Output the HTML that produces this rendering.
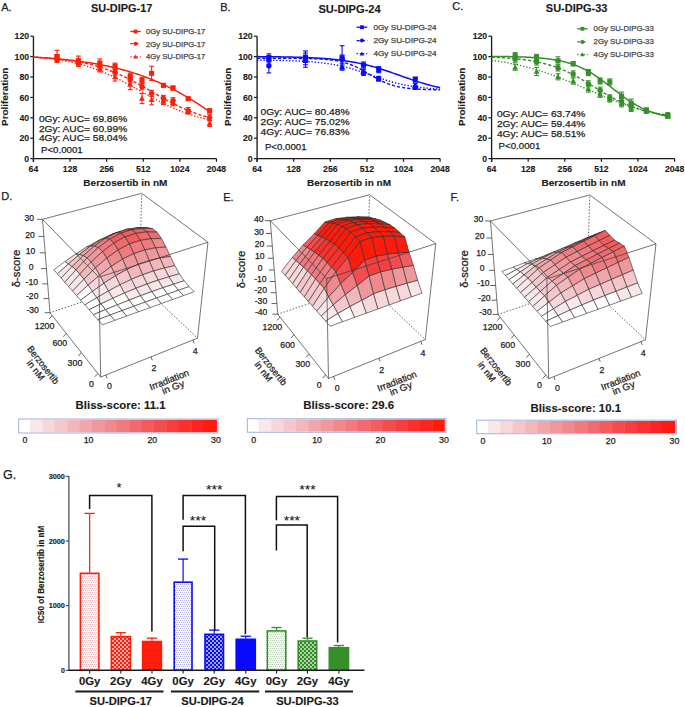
<!DOCTYPE html>
<html><head><meta charset="utf-8"><style>
html,body{margin:0;padding:0;background:#fff;}
body{width:685px;height:707px;overflow:hidden;}
svg{display:block;font-family:"Liberation Sans", sans-serif;}
</style></head><body>
<svg width="685" height="707" viewBox="0 0 685 707">
<rect width="685" height="707" fill="#fff"/>
<text x="1.2" y="10.8" font-size="11" fill="#1a1a1a" stroke="#1a1a1a" stroke-width="0.25">A.</text>
<text x="220.2" y="10.9" font-size="11" fill="#1a1a1a" stroke="#1a1a1a" stroke-width="0.25">B.</text>
<text x="452.2" y="9.5" font-size="11" fill="#1a1a1a" stroke="#1a1a1a" stroke-width="0.25">C.</text>
<text x="1.2" y="199.6" font-size="11" fill="#1a1a1a" stroke="#1a1a1a" stroke-width="0.25">D.</text>
<text x="223.2" y="201" font-size="11" fill="#1a1a1a" stroke="#1a1a1a" stroke-width="0.25">E.</text>
<text x="450.4" y="201" font-size="11" fill="#1a1a1a" stroke="#1a1a1a" stroke-width="0.25">F.</text>
<text x="3" y="478.7" font-size="12.5" fill="#1a1a1a" stroke="#1a1a1a" stroke-width="0.25">G.</text>
<text x="91" y="11.5" font-size="10.8" fill="#1a1a1a" font-weight="bold" textLength="61.3" lengthAdjust="spacingAndGlyphs" stroke="#1a1a1a" stroke-width="0.12">SU-DIPG-17</text>
<line x1="33.45" y1="36.2" x2="33.45" y2="161.8" stroke="#1a1a1a" stroke-width="1.35"/>
<line x1="32.85" y1="158.6" x2="216.45" y2="158.6" stroke="#1a1a1a" stroke-width="1.35"/>
<line x1="30.25" y1="158.6" x2="33.45" y2="158.6" stroke="#1a1a1a" stroke-width="1.2"/>
<text x="29.05" y="161.7" font-size="8.7" fill="#1a1a1a" text-anchor="end" font-weight="bold" stroke="#1a1a1a" stroke-width="0.12">0</text>
<line x1="30.25" y1="138.2" x2="33.45" y2="138.2" stroke="#1a1a1a" stroke-width="1.2"/>
<text x="29.05" y="141.3" font-size="8.7" fill="#1a1a1a" text-anchor="end" font-weight="bold" stroke="#1a1a1a" stroke-width="0.12">20</text>
<line x1="30.25" y1="117.8" x2="33.45" y2="117.8" stroke="#1a1a1a" stroke-width="1.2"/>
<text x="29.05" y="120.9" font-size="8.7" fill="#1a1a1a" text-anchor="end" font-weight="bold" stroke="#1a1a1a" stroke-width="0.12">40</text>
<line x1="30.25" y1="97.4" x2="33.45" y2="97.4" stroke="#1a1a1a" stroke-width="1.2"/>
<text x="29.05" y="100.5" font-size="8.7" fill="#1a1a1a" text-anchor="end" font-weight="bold" stroke="#1a1a1a" stroke-width="0.12">60</text>
<line x1="30.25" y1="77" x2="33.45" y2="77" stroke="#1a1a1a" stroke-width="1.2"/>
<text x="29.05" y="80.1" font-size="8.7" fill="#1a1a1a" text-anchor="end" font-weight="bold" stroke="#1a1a1a" stroke-width="0.12">80</text>
<line x1="30.25" y1="56.6" x2="33.45" y2="56.6" stroke="#1a1a1a" stroke-width="1.2"/>
<text x="29.05" y="59.7" font-size="8.7" fill="#1a1a1a" text-anchor="end" font-weight="bold" stroke="#1a1a1a" stroke-width="0.12">100</text>
<line x1="30.25" y1="36.2" x2="33.45" y2="36.2" stroke="#1a1a1a" stroke-width="1.2"/>
<text x="29.05" y="39.3" font-size="8.7" fill="#1a1a1a" text-anchor="end" font-weight="bold" stroke="#1a1a1a" stroke-width="0.12">120</text>
<line x1="33.45" y1="158.6" x2="33.45" y2="161.8" stroke="#1a1a1a" stroke-width="1.2"/>
<text x="33.45" y="172" font-size="8.7" fill="#1a1a1a" text-anchor="middle" font-weight="bold" stroke="#1a1a1a" stroke-width="0.12">64</text>
<line x1="70.05" y1="158.6" x2="70.05" y2="161.8" stroke="#1a1a1a" stroke-width="1.2"/>
<text x="70.05" y="172" font-size="8.7" fill="#1a1a1a" text-anchor="middle" font-weight="bold" stroke="#1a1a1a" stroke-width="0.12">128</text>
<line x1="106.65" y1="158.6" x2="106.65" y2="161.8" stroke="#1a1a1a" stroke-width="1.2"/>
<text x="106.65" y="172" font-size="8.7" fill="#1a1a1a" text-anchor="middle" font-weight="bold" stroke="#1a1a1a" stroke-width="0.12">256</text>
<line x1="143.25" y1="158.6" x2="143.25" y2="161.8" stroke="#1a1a1a" stroke-width="1.2"/>
<text x="143.25" y="172" font-size="8.7" fill="#1a1a1a" text-anchor="middle" font-weight="bold" stroke="#1a1a1a" stroke-width="0.12">512</text>
<line x1="179.85" y1="158.6" x2="179.85" y2="161.8" stroke="#1a1a1a" stroke-width="1.2"/>
<text x="179.85" y="172" font-size="8.7" fill="#1a1a1a" text-anchor="middle" font-weight="bold" stroke="#1a1a1a" stroke-width="0.12">1024</text>
<line x1="216.45" y1="158.6" x2="216.45" y2="161.8" stroke="#1a1a1a" stroke-width="1.2"/>
<text x="216.45" y="172" font-size="8.7" fill="#1a1a1a" text-anchor="middle" font-weight="bold" stroke="#1a1a1a" stroke-width="0.12">2048</text>
<text x="7.9" y="96.8" font-size="9.8" fill="#1a1a1a" text-anchor="middle" font-weight="bold" textLength="58.3" lengthAdjust="spacingAndGlyphs" transform="rotate(-90 7.9 96.8)" stroke="#1a1a1a" stroke-width="0.12">Proliferation</text>
<text x="125.35" y="186.2" font-size="9.4" fill="#1a1a1a" text-anchor="middle" font-weight="bold" textLength="84" lengthAdjust="spacingAndGlyphs" stroke="#1a1a1a" stroke-width="0.12">Berzosertib in nM</text>
<polyline points="33.45,57.07 34.93,57.16 36.41,57.25 37.89,57.34 39.37,57.44 40.85,57.54 42.33,57.64 43.81,57.75 45.29,57.85 46.77,57.96 48.26,58.08 49.74,58.19 51.22,58.31 52.7,58.44 54.18,58.56 55.66,58.69 57.14,58.82 58.62,58.96 60.1,59.1 61.58,59.24 63.06,59.39 64.54,59.54 66.02,59.7 67.5,59.86 68.98,60.02 70.46,60.19 71.94,60.36 73.42,60.54 74.91,60.72 76.39,60.9 77.87,61.1 79.35,61.29 80.83,61.49 82.31,61.7 83.79,61.91 85.27,62.12 86.75,62.35 88.23,62.57 89.71,62.81 91.19,63.05 92.67,63.29 94.15,63.54 95.63,63.8 97.11,64.06 98.59,64.33 100.07,64.61 101.55,64.89 103.04,65.18 104.52,65.48 106,65.78 107.48,66.1 108.96,66.42 110.44,66.74 111.92,67.08 113.4,67.42 114.88,67.77 116.36,68.13 117.84,68.5 119.32,68.87 120.8,69.26 122.28,69.65 123.76,70.05 125.24,70.46 126.72,70.88 128.2,71.31 129.69,71.75 131.17,72.19 132.65,72.65 134.13,73.12 135.61,73.6 137.09,74.08 138.57,74.58 140.05,75.09 141.53,75.61 143.01,76.14 144.49,76.68 145.97,77.23 147.45,77.79 148.93,78.36 150.41,78.94 151.89,79.54 153.37,80.14 154.85,80.76 156.33,81.39 157.82,82.03 159.3,82.68 160.78,83.34 162.26,84.02 163.74,84.71 165.22,85.4 166.7,86.11 168.18,86.83 169.66,87.57 171.14,88.31 172.62,89.07 174.1,89.84 175.58,90.62 177.06,91.41 178.54,92.21 180.02,93.03 181.5,93.85 182.98,94.69 184.47,95.54 185.95,96.4 187.43,97.27 188.91,98.15 190.39,99.04 191.87,99.95 193.35,100.86 194.83,101.78 196.31,102.72 197.79,103.66 199.27,104.61 200.75,105.57 202.23,106.54 203.71,107.52 205.19,108.51 206.67,109.51 208.15,110.51 209.63,111.53" fill="none" stroke="#ff1e0a" stroke-width="1.5"/>
<polyline points="33.45,57.3 34.93,57.38 36.41,57.45 37.89,57.54 39.37,57.62 40.85,57.71 42.33,57.8 43.81,57.9 45.29,58 46.77,58.11 48.26,58.22 49.74,58.33 51.22,58.45 52.7,58.58 54.18,58.71 55.66,58.85 57.14,59 58.62,59.15 60.1,59.3 61.58,59.47 63.06,59.64 64.54,59.82 66.02,60.01 67.5,60.2 68.98,60.41 70.46,60.62 71.94,60.84 73.42,61.07 74.91,61.31 76.39,61.56 77.87,61.82 79.35,62.09 80.83,62.37 82.31,62.66 83.79,62.97 85.27,63.28 86.75,63.61 88.23,63.95 89.71,64.31 91.19,64.67 92.67,65.05 94.15,65.45 95.63,65.86 97.11,66.28 98.59,66.71 100.07,67.17 101.55,67.63 103.04,68.11 104.52,68.61 106,69.12 107.48,69.65 108.96,70.19 110.44,70.75 111.92,71.33 113.4,71.92 114.88,72.52 116.36,73.14 117.84,73.78 119.32,74.43 120.8,75.1 122.28,75.78 123.76,76.48 125.24,77.19 126.72,77.91 128.2,78.65 129.69,79.4 131.17,80.17 132.65,80.94 134.13,81.73 135.61,82.52 137.09,83.33 138.57,84.14 140.05,84.96 141.53,85.79 143.01,86.63 144.49,87.47 145.97,88.31 147.45,89.16 148.93,90.01 150.41,90.87 151.89,91.72 153.37,92.57 154.85,93.43 156.33,94.28 157.82,95.12 159.3,95.96 160.78,96.8 162.26,97.63 163.74,98.46 165.22,99.27 166.7,100.08 168.18,100.88 169.66,101.67 171.14,102.45 172.62,103.21 174.1,103.97 175.58,104.71 177.06,105.44 178.54,106.15 180.02,106.85 181.5,107.54 182.98,108.21 184.47,108.87 185.95,109.51 187.43,110.14 188.91,110.75 190.39,111.34 191.87,111.92 193.35,112.49 194.83,113.03 196.31,113.57 197.79,114.08 199.27,114.58 200.75,115.07 202.23,115.54 203.71,116 205.19,116.44 206.67,116.86 208.15,117.28 209.63,117.67" fill="none" stroke="#ff1e0a" stroke-width="1.4" stroke-dasharray="3.2,2"/>
<polyline points="33.45,56.93 34.93,57.05 36.41,57.17 37.89,57.3 39.37,57.44 40.85,57.58 42.33,57.72 43.81,57.88 45.29,58.03 46.77,58.2 48.26,58.37 49.74,58.55 51.22,58.74 52.7,58.93 54.18,59.14 55.66,59.35 57.14,59.57 58.62,59.79 60.1,60.03 61.58,60.28 63.06,60.53 64.54,60.8 66.02,61.07 67.5,61.36 68.98,61.66 70.46,61.96 71.94,62.28 73.42,62.61 74.91,62.95 76.39,63.31 77.87,63.67 79.35,64.05 80.83,64.45 82.31,64.85 83.79,65.27 85.27,65.7 86.75,66.15 88.23,66.61 89.71,67.08 91.19,67.57 92.67,68.07 94.15,68.59 95.63,69.12 97.11,69.66 98.59,70.22 100.07,70.8 101.55,71.39 103.04,71.99 104.52,72.61 106,73.24 107.48,73.89 108.96,74.54 110.44,75.22 111.92,75.91 113.4,76.6 114.88,77.32 116.36,78.04 117.84,78.78 119.32,79.52 120.8,80.28 122.28,81.05 123.76,81.83 125.24,82.61 126.72,83.41 128.2,84.21 129.69,85.02 131.17,85.83 132.65,86.65 134.13,87.48 135.61,88.31 137.09,89.14 138.57,89.97 140.05,90.8 141.53,91.64 143.01,92.47 144.49,93.3 145.97,94.13 147.45,94.95 148.93,95.77 150.41,96.59 151.89,97.4 153.37,98.21 154.85,99 156.33,99.79 157.82,100.57 159.3,101.35 160.78,102.11 162.26,102.86 163.74,103.6 165.22,104.33 166.7,105.04 168.18,105.75 169.66,106.44 171.14,107.12 172.62,107.78 174.1,108.43 175.58,109.07 177.06,109.7 178.54,110.3 180.02,110.9 181.5,111.48 182.98,112.04 184.47,112.59 185.95,113.13 187.43,113.65 188.91,114.16 190.39,114.65 191.87,115.13 193.35,115.6 194.83,116.05 196.31,116.48 197.79,116.91 199.27,117.32 200.75,117.71 202.23,118.1 203.71,118.47 205.19,118.83 206.67,119.17 208.15,119.51 209.63,119.83" fill="none" stroke="#ff1e0a" stroke-width="1.4" stroke-dasharray="1.3,1.9"/>
<line x1="57.02" y1="50.28" x2="57.02" y2="62.52" stroke="#ff1e0a" stroke-width="1.1"/>
<line x1="54.62" y1="50.28" x2="59.42" y2="50.28" stroke="#ff1e0a" stroke-width="1.1"/>
<line x1="54.62" y1="62.52" x2="59.42" y2="62.52" stroke="#ff1e0a" stroke-width="1.1"/>
<rect x="54.47" y="53.85" width="5.1" height="5.1" fill="#ff1e0a"/>
<line x1="78.42" y1="56.09" x2="78.42" y2="66.29" stroke="#ff1e0a" stroke-width="1.1"/>
<line x1="76.02" y1="56.09" x2="80.82" y2="56.09" stroke="#ff1e0a" stroke-width="1.1"/>
<line x1="76.02" y1="66.29" x2="80.82" y2="66.29" stroke="#ff1e0a" stroke-width="1.1"/>
<rect x="75.87" y="58.64" width="5.1" height="5.1" fill="#ff1e0a"/>
<line x1="99.83" y1="58.95" x2="99.83" y2="67.11" stroke="#ff1e0a" stroke-width="1.1"/>
<line x1="97.43" y1="58.95" x2="102.23" y2="58.95" stroke="#ff1e0a" stroke-width="1.1"/>
<line x1="97.43" y1="67.11" x2="102.23" y2="67.11" stroke="#ff1e0a" stroke-width="1.1"/>
<rect x="97.28" y="60.48" width="5.1" height="5.1" fill="#ff1e0a"/>
<line x1="115.02" y1="63.13" x2="115.02" y2="69.25" stroke="#ff1e0a" stroke-width="1.1"/>
<line x1="112.62" y1="63.13" x2="117.42" y2="63.13" stroke="#ff1e0a" stroke-width="1.1"/>
<line x1="112.62" y1="69.25" x2="117.42" y2="69.25" stroke="#ff1e0a" stroke-width="1.1"/>
<rect x="112.47" y="63.64" width="5.1" height="5.1" fill="#ff1e0a"/>
<line x1="130.22" y1="73.23" x2="130.22" y2="79.35" stroke="#ff1e0a" stroke-width="1.1"/>
<line x1="127.82" y1="73.23" x2="132.62" y2="73.23" stroke="#ff1e0a" stroke-width="1.1"/>
<line x1="127.82" y1="79.35" x2="132.62" y2="79.35" stroke="#ff1e0a" stroke-width="1.1"/>
<rect x="127.67" y="73.74" width="5.1" height="5.1" fill="#ff1e0a"/>
<line x1="142" y1="77.31" x2="142" y2="83.43" stroke="#ff1e0a" stroke-width="1.1"/>
<line x1="139.6" y1="77.31" x2="144.4" y2="77.31" stroke="#ff1e0a" stroke-width="1.1"/>
<line x1="139.6" y1="83.43" x2="144.4" y2="83.43" stroke="#ff1e0a" stroke-width="1.1"/>
<rect x="139.45" y="77.82" width="5.1" height="5.1" fill="#ff1e0a"/>
<line x1="151.62" y1="66.19" x2="151.62" y2="80.47" stroke="#ff1e0a" stroke-width="1.1"/>
<line x1="149.22" y1="66.19" x2="154.02" y2="66.19" stroke="#ff1e0a" stroke-width="1.1"/>
<line x1="149.22" y1="80.47" x2="154.02" y2="80.47" stroke="#ff1e0a" stroke-width="1.1"/>
<rect x="149.07" y="70.78" width="5.1" height="5.1" fill="#ff1e0a"/>
<line x1="163.41" y1="83.83" x2="163.41" y2="86.89" stroke="#ff1e0a" stroke-width="1.1"/>
<line x1="161.01" y1="83.83" x2="165.81" y2="83.83" stroke="#ff1e0a" stroke-width="1.1"/>
<line x1="161.01" y1="86.89" x2="165.81" y2="86.89" stroke="#ff1e0a" stroke-width="1.1"/>
<rect x="160.86" y="82.81" width="5.1" height="5.1" fill="#ff1e0a"/>
<line x1="173.03" y1="85.98" x2="173.03" y2="90.06" stroke="#ff1e0a" stroke-width="1.1"/>
<line x1="170.63" y1="85.98" x2="175.43" y2="85.98" stroke="#ff1e0a" stroke-width="1.1"/>
<line x1="170.63" y1="90.06" x2="175.43" y2="90.06" stroke="#ff1e0a" stroke-width="1.1"/>
<rect x="170.48" y="85.47" width="5.1" height="5.1" fill="#ff1e0a"/>
<line x1="188.22" y1="97.2" x2="188.22" y2="100.26" stroke="#ff1e0a" stroke-width="1.1"/>
<line x1="185.82" y1="97.2" x2="190.62" y2="97.2" stroke="#ff1e0a" stroke-width="1.1"/>
<line x1="185.82" y1="100.26" x2="190.62" y2="100.26" stroke="#ff1e0a" stroke-width="1.1"/>
<rect x="185.67" y="96.18" width="5.1" height="5.1" fill="#ff1e0a"/>
<line x1="209.63" y1="108.82" x2="209.63" y2="112.9" stroke="#ff1e0a" stroke-width="1.1"/>
<line x1="207.23" y1="108.82" x2="212.03" y2="108.82" stroke="#ff1e0a" stroke-width="1.1"/>
<line x1="207.23" y1="112.9" x2="212.03" y2="112.9" stroke="#ff1e0a" stroke-width="1.1"/>
<rect x="207.08" y="108.31" width="5.1" height="5.1" fill="#ff1e0a"/>
<line x1="57.02" y1="54.56" x2="57.02" y2="60.68" stroke="#ff1e0a" stroke-width="1.1"/>
<line x1="54.62" y1="54.56" x2="59.42" y2="54.56" stroke="#ff1e0a" stroke-width="1.1"/>
<line x1="54.62" y1="60.68" x2="59.42" y2="60.68" stroke="#ff1e0a" stroke-width="1.1"/>
<circle cx="57.02" cy="57.62" r="2.68" fill="#ff1e0a"/>
<line x1="78.42" y1="59.66" x2="78.42" y2="65.78" stroke="#ff1e0a" stroke-width="1.1"/>
<line x1="76.02" y1="59.66" x2="80.82" y2="59.66" stroke="#ff1e0a" stroke-width="1.1"/>
<line x1="76.02" y1="65.78" x2="80.82" y2="65.78" stroke="#ff1e0a" stroke-width="1.1"/>
<circle cx="78.42" cy="62.72" r="2.68" fill="#ff1e0a"/>
<line x1="99.83" y1="62.72" x2="99.83" y2="68.84" stroke="#ff1e0a" stroke-width="1.1"/>
<line x1="97.43" y1="62.72" x2="102.23" y2="62.72" stroke="#ff1e0a" stroke-width="1.1"/>
<line x1="97.43" y1="68.84" x2="102.23" y2="68.84" stroke="#ff1e0a" stroke-width="1.1"/>
<circle cx="99.83" cy="65.78" r="2.68" fill="#ff1e0a"/>
<line x1="115.02" y1="69.15" x2="115.02" y2="75.27" stroke="#ff1e0a" stroke-width="1.1"/>
<line x1="112.62" y1="69.15" x2="117.42" y2="69.15" stroke="#ff1e0a" stroke-width="1.1"/>
<line x1="112.62" y1="75.27" x2="117.42" y2="75.27" stroke="#ff1e0a" stroke-width="1.1"/>
<circle cx="115.02" cy="72.21" r="2.68" fill="#ff1e0a"/>
<line x1="130.22" y1="76.8" x2="130.22" y2="82.92" stroke="#ff1e0a" stroke-width="1.1"/>
<line x1="127.82" y1="76.8" x2="132.62" y2="76.8" stroke="#ff1e0a" stroke-width="1.1"/>
<line x1="127.82" y1="82.92" x2="132.62" y2="82.92" stroke="#ff1e0a" stroke-width="1.1"/>
<circle cx="130.22" cy="79.86" r="2.68" fill="#ff1e0a"/>
<line x1="142" y1="83.73" x2="142" y2="89.85" stroke="#ff1e0a" stroke-width="1.1"/>
<line x1="139.6" y1="83.73" x2="144.4" y2="83.73" stroke="#ff1e0a" stroke-width="1.1"/>
<line x1="139.6" y1="89.85" x2="144.4" y2="89.85" stroke="#ff1e0a" stroke-width="1.1"/>
<circle cx="142" cy="86.79" r="2.68" fill="#ff1e0a"/>
<line x1="151.62" y1="90.26" x2="151.62" y2="96.38" stroke="#ff1e0a" stroke-width="1.1"/>
<line x1="149.22" y1="90.26" x2="154.02" y2="90.26" stroke="#ff1e0a" stroke-width="1.1"/>
<line x1="149.22" y1="96.38" x2="154.02" y2="96.38" stroke="#ff1e0a" stroke-width="1.1"/>
<circle cx="151.62" cy="93.32" r="2.68" fill="#ff1e0a"/>
<line x1="163.41" y1="95.36" x2="163.41" y2="101.48" stroke="#ff1e0a" stroke-width="1.1"/>
<line x1="161.01" y1="95.36" x2="165.81" y2="95.36" stroke="#ff1e0a" stroke-width="1.1"/>
<line x1="161.01" y1="101.48" x2="165.81" y2="101.48" stroke="#ff1e0a" stroke-width="1.1"/>
<circle cx="163.41" cy="98.42" r="2.68" fill="#ff1e0a"/>
<line x1="173.03" y1="97.71" x2="173.03" y2="103.83" stroke="#ff1e0a" stroke-width="1.1"/>
<line x1="170.63" y1="97.71" x2="175.43" y2="97.71" stroke="#ff1e0a" stroke-width="1.1"/>
<line x1="170.63" y1="103.83" x2="175.43" y2="103.83" stroke="#ff1e0a" stroke-width="1.1"/>
<circle cx="173.03" cy="100.77" r="2.68" fill="#ff1e0a"/>
<line x1="188.22" y1="107.6" x2="188.22" y2="113.72" stroke="#ff1e0a" stroke-width="1.1"/>
<line x1="185.82" y1="107.6" x2="190.62" y2="107.6" stroke="#ff1e0a" stroke-width="1.1"/>
<line x1="185.82" y1="113.72" x2="190.62" y2="113.72" stroke="#ff1e0a" stroke-width="1.1"/>
<circle cx="188.22" cy="110.66" r="2.68" fill="#ff1e0a"/>
<line x1="209.63" y1="114.74" x2="209.63" y2="120.86" stroke="#ff1e0a" stroke-width="1.1"/>
<line x1="207.23" y1="114.74" x2="212.03" y2="114.74" stroke="#ff1e0a" stroke-width="1.1"/>
<line x1="207.23" y1="120.86" x2="212.03" y2="120.86" stroke="#ff1e0a" stroke-width="1.1"/>
<circle cx="209.63" cy="117.8" r="2.68" fill="#ff1e0a"/>
<line x1="57.02" y1="55.58" x2="57.02" y2="61.7" stroke="#ff1e0a" stroke-width="1.1"/>
<line x1="54.62" y1="55.58" x2="59.42" y2="55.58" stroke="#ff1e0a" stroke-width="1.1"/>
<line x1="54.62" y1="61.7" x2="59.42" y2="61.7" stroke="#ff1e0a" stroke-width="1.1"/>
<polygon points="57.02,55.58 59.95,60.93 54.08,60.93" fill="#ff1e0a"/>
<line x1="78.42" y1="58.64" x2="78.42" y2="64.76" stroke="#ff1e0a" stroke-width="1.1"/>
<line x1="76.02" y1="58.64" x2="80.82" y2="58.64" stroke="#ff1e0a" stroke-width="1.1"/>
<line x1="76.02" y1="64.76" x2="80.82" y2="64.76" stroke="#ff1e0a" stroke-width="1.1"/>
<polygon points="78.42,58.64 81.36,63.99 75.49,63.99" fill="#ff1e0a"/>
<line x1="99.83" y1="65.78" x2="99.83" y2="71.9" stroke="#ff1e0a" stroke-width="1.1"/>
<line x1="97.43" y1="65.78" x2="102.23" y2="65.78" stroke="#ff1e0a" stroke-width="1.1"/>
<line x1="97.43" y1="71.9" x2="102.23" y2="71.9" stroke="#ff1e0a" stroke-width="1.1"/>
<polygon points="99.83,65.78 102.77,71.13 96.9,71.13" fill="#ff1e0a"/>
<line x1="115.02" y1="72.92" x2="115.02" y2="81.08" stroke="#ff1e0a" stroke-width="1.1"/>
<line x1="112.62" y1="72.92" x2="117.42" y2="72.92" stroke="#ff1e0a" stroke-width="1.1"/>
<line x1="112.62" y1="81.08" x2="117.42" y2="81.08" stroke="#ff1e0a" stroke-width="1.1"/>
<polygon points="115.02,73.94 117.96,79.3 112.09,79.3" fill="#ff1e0a"/>
<line x1="130.22" y1="79.45" x2="130.22" y2="89.65" stroke="#ff1e0a" stroke-width="1.1"/>
<line x1="127.82" y1="79.45" x2="132.62" y2="79.45" stroke="#ff1e0a" stroke-width="1.1"/>
<line x1="127.82" y1="89.65" x2="132.62" y2="89.65" stroke="#ff1e0a" stroke-width="1.1"/>
<polygon points="130.22,81.49 133.15,86.84 127.28,86.84" fill="#ff1e0a"/>
<line x1="142" y1="93.42" x2="142" y2="103.62" stroke="#ff1e0a" stroke-width="1.1"/>
<line x1="139.6" y1="93.42" x2="144.4" y2="93.42" stroke="#ff1e0a" stroke-width="1.1"/>
<line x1="139.6" y1="103.62" x2="144.4" y2="103.62" stroke="#ff1e0a" stroke-width="1.1"/>
<polygon points="142,95.46 144.93,100.82 139.07,100.82" fill="#ff1e0a"/>
<line x1="151.62" y1="94.65" x2="151.62" y2="104.85" stroke="#ff1e0a" stroke-width="1.1"/>
<line x1="149.22" y1="94.65" x2="154.02" y2="94.65" stroke="#ff1e0a" stroke-width="1.1"/>
<line x1="149.22" y1="104.85" x2="154.02" y2="104.85" stroke="#ff1e0a" stroke-width="1.1"/>
<polygon points="151.62,96.69 154.56,102.04 148.69,102.04" fill="#ff1e0a"/>
<line x1="163.41" y1="98.42" x2="163.41" y2="104.54" stroke="#ff1e0a" stroke-width="1.1"/>
<line x1="161.01" y1="98.42" x2="165.81" y2="98.42" stroke="#ff1e0a" stroke-width="1.1"/>
<line x1="161.01" y1="104.54" x2="165.81" y2="104.54" stroke="#ff1e0a" stroke-width="1.1"/>
<polygon points="163.41,98.42 166.34,103.77 160.47,103.77" fill="#ff1e0a"/>
<line x1="173.03" y1="99.64" x2="173.03" y2="105.76" stroke="#ff1e0a" stroke-width="1.1"/>
<line x1="170.63" y1="99.64" x2="175.43" y2="99.64" stroke="#ff1e0a" stroke-width="1.1"/>
<line x1="170.63" y1="105.76" x2="175.43" y2="105.76" stroke="#ff1e0a" stroke-width="1.1"/>
<polygon points="173.03,99.64 175.97,105 170.1,105" fill="#ff1e0a"/>
<line x1="188.22" y1="109.64" x2="188.22" y2="113.72" stroke="#ff1e0a" stroke-width="1.1"/>
<line x1="185.82" y1="109.64" x2="190.62" y2="109.64" stroke="#ff1e0a" stroke-width="1.1"/>
<line x1="185.82" y1="113.72" x2="190.62" y2="113.72" stroke="#ff1e0a" stroke-width="1.1"/>
<polygon points="188.22,108.62 191.16,113.97 185.29,113.97" fill="#ff1e0a"/>
<line x1="209.63" y1="120.35" x2="209.63" y2="126.47" stroke="#ff1e0a" stroke-width="1.1"/>
<line x1="207.23" y1="120.35" x2="212.03" y2="120.35" stroke="#ff1e0a" stroke-width="1.1"/>
<line x1="207.23" y1="126.47" x2="212.03" y2="126.47" stroke="#ff1e0a" stroke-width="1.1"/>
<polygon points="209.63,120.35 212.57,125.7 206.7,125.7" fill="#ff1e0a"/>
<line x1="130.3" y1="31.5" x2="140.8" y2="31.5" stroke="#ff1e0a" stroke-width="1.3"/>
<rect x="133.65" y="29.6" width="3.8" height="3.8" fill="#ff1e0a"/>
<text x="146" y="33.8" font-size="7.8" fill="#444" textLength="59.4" lengthAdjust="spacingAndGlyphs" stroke="#444" stroke-width="0.25">0Gy SU-DIPG-17</text>
<line x1="130.3" y1="43.7" x2="140.8" y2="43.7" stroke="#ff1e0a" stroke-width="1.3" stroke-dasharray="3.2,2"/>
<circle cx="135.55" cy="43.7" r="1.99" fill="#ff1e0a"/>
<text x="146" y="46.7" font-size="7.8" fill="#444" textLength="59.4" lengthAdjust="spacingAndGlyphs" stroke="#444" stroke-width="0.25">2Gy SU-DIPG-17</text>
<line x1="130.3" y1="56.8" x2="140.8" y2="56.8" stroke="#ff1e0a" stroke-width="1.3" stroke-dasharray="1.3,1.9"/>
<polygon points="135.55,54.52 137.74,58.51 133.37,58.51" fill="#ff1e0a"/>
<text x="146" y="58.8" font-size="7.8" fill="#444" textLength="59.4" lengthAdjust="spacingAndGlyphs" stroke="#444" stroke-width="0.25">4Gy SU-DIPG-17</text>
<text x="38.9" y="121.9" font-size="9.9" fill="#222" textLength="88.3" lengthAdjust="spacingAndGlyphs" stroke="#222" stroke-width="0.25">0Gy: AUC= 69.86%</text>
<text x="38.9" y="131.6" font-size="9.9" fill="#222" textLength="88.3" lengthAdjust="spacingAndGlyphs" stroke="#222" stroke-width="0.25">2Gy: AUC= 60.99%</text>
<text x="38.9" y="141.2" font-size="9.9" fill="#222" textLength="88.3" lengthAdjust="spacingAndGlyphs" stroke="#222" stroke-width="0.25">4Gy: AUC= 58.04%</text>
<text x="41" y="152.7" font-size="9.9" fill="#222" textLength="41.7" lengthAdjust="spacingAndGlyphs" stroke="#222" stroke-width="0.25">P&lt;0.0001</text>
<text x="318.4" y="12.6" font-size="10.8" fill="#1a1a1a" font-weight="bold" textLength="62.3" lengthAdjust="spacingAndGlyphs" stroke="#1a1a1a" stroke-width="0.12">SU-DIPG-24</text>
<line x1="257.1" y1="36.2" x2="257.1" y2="161.8" stroke="#1a1a1a" stroke-width="1.35"/>
<line x1="256.5" y1="158.6" x2="440.1" y2="158.6" stroke="#1a1a1a" stroke-width="1.35"/>
<line x1="253.9" y1="158.6" x2="257.1" y2="158.6" stroke="#1a1a1a" stroke-width="1.2"/>
<text x="252.7" y="161.7" font-size="8.7" fill="#1a1a1a" text-anchor="end" font-weight="bold" stroke="#1a1a1a" stroke-width="0.12">0</text>
<line x1="253.9" y1="138.2" x2="257.1" y2="138.2" stroke="#1a1a1a" stroke-width="1.2"/>
<text x="252.7" y="141.3" font-size="8.7" fill="#1a1a1a" text-anchor="end" font-weight="bold" stroke="#1a1a1a" stroke-width="0.12">20</text>
<line x1="253.9" y1="117.8" x2="257.1" y2="117.8" stroke="#1a1a1a" stroke-width="1.2"/>
<text x="252.7" y="120.9" font-size="8.7" fill="#1a1a1a" text-anchor="end" font-weight="bold" stroke="#1a1a1a" stroke-width="0.12">40</text>
<line x1="253.9" y1="97.4" x2="257.1" y2="97.4" stroke="#1a1a1a" stroke-width="1.2"/>
<text x="252.7" y="100.5" font-size="8.7" fill="#1a1a1a" text-anchor="end" font-weight="bold" stroke="#1a1a1a" stroke-width="0.12">60</text>
<line x1="253.9" y1="77" x2="257.1" y2="77" stroke="#1a1a1a" stroke-width="1.2"/>
<text x="252.7" y="80.1" font-size="8.7" fill="#1a1a1a" text-anchor="end" font-weight="bold" stroke="#1a1a1a" stroke-width="0.12">80</text>
<line x1="253.9" y1="56.6" x2="257.1" y2="56.6" stroke="#1a1a1a" stroke-width="1.2"/>
<text x="252.7" y="59.7" font-size="8.7" fill="#1a1a1a" text-anchor="end" font-weight="bold" stroke="#1a1a1a" stroke-width="0.12">100</text>
<line x1="253.9" y1="36.2" x2="257.1" y2="36.2" stroke="#1a1a1a" stroke-width="1.2"/>
<text x="252.7" y="39.3" font-size="8.7" fill="#1a1a1a" text-anchor="end" font-weight="bold" stroke="#1a1a1a" stroke-width="0.12">120</text>
<line x1="257.1" y1="158.6" x2="257.1" y2="161.8" stroke="#1a1a1a" stroke-width="1.2"/>
<text x="257.1" y="172" font-size="8.7" fill="#1a1a1a" text-anchor="middle" font-weight="bold" stroke="#1a1a1a" stroke-width="0.12">64</text>
<line x1="293.7" y1="158.6" x2="293.7" y2="161.8" stroke="#1a1a1a" stroke-width="1.2"/>
<text x="293.7" y="172" font-size="8.7" fill="#1a1a1a" text-anchor="middle" font-weight="bold" stroke="#1a1a1a" stroke-width="0.12">128</text>
<line x1="330.3" y1="158.6" x2="330.3" y2="161.8" stroke="#1a1a1a" stroke-width="1.2"/>
<text x="330.3" y="172" font-size="8.7" fill="#1a1a1a" text-anchor="middle" font-weight="bold" stroke="#1a1a1a" stroke-width="0.12">256</text>
<line x1="366.9" y1="158.6" x2="366.9" y2="161.8" stroke="#1a1a1a" stroke-width="1.2"/>
<text x="366.9" y="172" font-size="8.7" fill="#1a1a1a" text-anchor="middle" font-weight="bold" stroke="#1a1a1a" stroke-width="0.12">512</text>
<line x1="403.5" y1="158.6" x2="403.5" y2="161.8" stroke="#1a1a1a" stroke-width="1.2"/>
<text x="403.5" y="172" font-size="8.7" fill="#1a1a1a" text-anchor="middle" font-weight="bold" stroke="#1a1a1a" stroke-width="0.12">1024</text>
<line x1="440.1" y1="158.6" x2="440.1" y2="161.8" stroke="#1a1a1a" stroke-width="1.2"/>
<text x="440.1" y="172" font-size="8.7" fill="#1a1a1a" text-anchor="middle" font-weight="bold" stroke="#1a1a1a" stroke-width="0.12">2048</text>
<text x="231" y="96.8" font-size="9.8" fill="#1a1a1a" text-anchor="middle" font-weight="bold" textLength="58.3" lengthAdjust="spacingAndGlyphs" transform="rotate(-90 231 96.8)" stroke="#1a1a1a" stroke-width="0.12">Proliferation</text>
<text x="349" y="186.2" font-size="9.4" fill="#1a1a1a" text-anchor="middle" font-weight="bold" textLength="84" lengthAdjust="spacingAndGlyphs" stroke="#1a1a1a" stroke-width="0.12">Berzosertib in nM</text>
<polyline points="257.1,56.61 258.64,56.62 260.18,56.63 261.71,56.64 263.25,56.65 264.79,56.67 266.33,56.68 267.86,56.7 269.4,56.71 270.94,56.73 272.48,56.75 274.02,56.77 275.55,56.79 277.09,56.81 278.63,56.83 280.17,56.85 281.71,56.88 283.24,56.9 284.78,56.93 286.32,56.96 287.86,56.99 289.39,57.03 290.93,57.06 292.47,57.1 294.01,57.14 295.55,57.18 297.08,57.22 298.62,57.27 300.16,57.32 301.7,57.37 303.23,57.42 304.77,57.48 306.31,57.54 307.85,57.6 309.39,57.67 310.92,57.74 312.46,57.82 314,57.9 315.54,57.98 317.07,58.07 318.61,58.16 320.15,58.26 321.69,58.36 323.23,58.47 324.76,58.58 326.3,58.7 327.84,58.83 329.38,58.96 330.92,59.1 332.45,59.25 333.99,59.4 335.53,59.57 337.07,59.74 338.6,59.91 340.14,60.1 341.68,60.3 343.22,60.5 344.76,60.71 346.29,60.94 347.83,61.17 349.37,61.42 350.91,61.67 352.44,61.94 353.98,62.22 355.52,62.5 357.06,62.8 358.6,63.12 360.13,63.44 361.67,63.78 363.21,64.12 364.75,64.48 366.28,64.85 367.82,65.24 369.36,65.64 370.9,66.04 372.44,66.46 373.97,66.9 375.51,67.34 377.05,67.79 378.59,68.26 380.13,68.73 381.66,69.22 383.2,69.71 384.74,70.21 386.28,70.73 387.81,71.24 389.35,71.77 390.89,72.3 392.43,72.84 393.97,73.38 395.5,73.92 397.04,74.47 398.58,75.02 400.12,75.57 401.65,76.12 403.19,76.67 404.73,77.21 406.27,77.76 407.81,78.3 409.34,78.83 410.88,79.36 412.42,79.89 413.96,80.41 415.49,80.92 417.03,81.42 418.57,81.91 420.11,82.4 421.65,82.87 423.18,83.33 424.72,83.79 426.26,84.23 427.8,84.66 429.34,85.08 430.87,85.48 432.41,85.88 433.95,86.26 435.49,86.63 437.02,86.99 438.56,87.33 440.1,87.67" fill="none" stroke="#0a0aff" stroke-width="1.5"/>
<polyline points="257.1,58.27 258.64,58.27 260.18,58.27 261.71,58.27 263.25,58.27 264.79,58.27 266.33,58.27 267.86,58.27 269.4,58.28 270.94,58.28 272.48,58.28 274.02,58.28 275.55,58.29 277.09,58.29 278.63,58.29 280.17,58.3 281.71,58.3 283.24,58.31 284.78,58.32 286.32,58.32 287.86,58.33 289.39,58.34 290.93,58.35 292.47,58.36 294.01,58.37 295.55,58.39 297.08,58.4 298.62,58.42 300.16,58.44 301.7,58.46 303.23,58.49 304.77,58.51 306.31,58.55 307.85,58.58 309.39,58.62 310.92,58.66 312.46,58.71 314,58.77 315.54,58.83 317.07,58.89 318.61,58.97 320.15,59.05 321.69,59.15 323.23,59.25 324.76,59.37 326.3,59.5 327.84,59.65 329.38,59.81 330.92,59.98 332.45,60.18 333.99,60.4 335.53,60.64 337.07,60.91 338.6,61.2 340.14,61.52 341.68,61.87 343.22,62.26 344.76,62.68 346.29,63.13 347.83,63.63 349.37,64.16 350.91,64.73 352.44,65.34 353.98,66 355.52,66.69 357.06,67.42 358.6,68.18 360.13,68.98 361.67,69.81 363.21,70.67 364.75,71.55 366.28,72.44 367.82,73.35 369.36,74.26 370.9,75.17 372.44,76.07 373.97,76.96 375.51,77.83 377.05,78.68 378.59,79.5 380.13,80.29 381.66,81.05 383.2,81.76 384.74,82.44 386.28,83.08 387.81,83.68 389.35,84.24 390.89,84.76 392.43,85.24 393.97,85.69 395.5,86.09 397.04,86.47 398.58,86.81 400.12,87.12 401.65,87.41 403.19,87.67 404.73,87.9 406.27,88.11 407.81,88.3 409.34,88.48 410.88,88.63 412.42,88.77 413.96,88.9 415.49,89.01 417.03,89.11 418.57,89.2 420.11,89.29 421.65,89.36 423.18,89.42 424.72,89.48 426.26,89.54 427.8,89.58 429.34,89.62 430.87,89.66 432.41,89.69 433.95,89.72 435.49,89.75 437.02,89.78 438.56,89.8 440.1,89.82" fill="none" stroke="#0a0aff" stroke-width="1.4" stroke-dasharray="3.2,2"/>
<polyline points="257.1,60.16 258.64,60.17 260.18,60.18 261.71,60.2 263.25,60.21 264.79,60.23 266.33,60.24 267.86,60.26 269.4,60.28 270.94,60.3 272.48,60.32 274.02,60.35 275.55,60.37 277.09,60.4 278.63,60.43 280.17,60.46 281.71,60.49 283.24,60.53 284.78,60.57 286.32,60.61 287.86,60.65 289.39,60.7 290.93,60.75 292.47,60.8 294.01,60.86 295.55,60.92 297.08,60.98 298.62,61.05 300.16,61.12 301.7,61.2 303.23,61.29 304.77,61.38 306.31,61.47 307.85,61.58 309.39,61.68 310.92,61.8 312.46,61.92 314,62.06 315.54,62.19 317.07,62.34 318.61,62.5 320.15,62.67 321.69,62.84 323.23,63.03 324.76,63.23 326.3,63.44 327.84,63.66 329.38,63.89 330.92,64.14 332.45,64.4 333.99,64.67 335.53,64.96 337.07,65.26 338.6,65.57 340.14,65.9 341.68,66.24 343.22,66.6 344.76,66.97 346.29,67.36 347.83,67.76 349.37,68.17 350.91,68.6 352.44,69.04 353.98,69.5 355.52,69.97 357.06,70.44 358.6,70.93 360.13,71.43 361.67,71.94 363.21,72.45 364.75,72.97 366.28,73.5 367.82,74.03 369.36,74.56 370.9,75.09 372.44,75.63 373.97,76.16 375.51,76.69 377.05,77.22 378.59,77.74 380.13,78.25 381.66,78.76 383.2,79.26 384.74,79.75 386.28,80.23 387.81,80.7 389.35,81.15 390.89,81.6 392.43,82.03 393.97,82.44 395.5,82.84 397.04,83.23 398.58,83.61 400.12,83.97 401.65,84.31 403.19,84.64 404.73,84.96 406.27,85.26 407.81,85.55 409.34,85.82 410.88,86.08 412.42,86.33 413.96,86.56 415.49,86.79 417.03,87 418.57,87.2 420.11,87.39 421.65,87.56 423.18,87.73 424.72,87.89 426.26,88.04 427.8,88.18 429.34,88.31 430.87,88.44 432.41,88.55 433.95,88.66 435.49,88.77 437.02,88.86 438.56,88.95 440.1,89.04" fill="none" stroke="#0a0aff" stroke-width="1.4" stroke-dasharray="1.3,1.9"/>
<line x1="268.88" y1="53.85" x2="268.88" y2="62.01" stroke="#0a0aff" stroke-width="1.1"/>
<line x1="266.48" y1="53.85" x2="271.28" y2="53.85" stroke="#0a0aff" stroke-width="1.1"/>
<line x1="266.48" y1="62.01" x2="271.28" y2="62.01" stroke="#0a0aff" stroke-width="1.1"/>
<rect x="266.33" y="55.38" width="5.1" height="5.1" fill="#0a0aff"/>
<line x1="305.48" y1="53.13" x2="305.48" y2="61.29" stroke="#0a0aff" stroke-width="1.1"/>
<line x1="303.08" y1="53.13" x2="307.88" y2="53.13" stroke="#0a0aff" stroke-width="1.1"/>
<line x1="303.08" y1="61.29" x2="307.88" y2="61.29" stroke="#0a0aff" stroke-width="1.1"/>
<rect x="302.93" y="54.66" width="5.1" height="5.1" fill="#0a0aff"/>
<line x1="342.08" y1="45.69" x2="342.08" y2="70.17" stroke="#0a0aff" stroke-width="1.1"/>
<line x1="339.68" y1="45.69" x2="344.48" y2="45.69" stroke="#0a0aff" stroke-width="1.1"/>
<line x1="339.68" y1="70.17" x2="344.48" y2="70.17" stroke="#0a0aff" stroke-width="1.1"/>
<rect x="339.53" y="55.38" width="5.1" height="5.1" fill="#0a0aff"/>
<line x1="363.49" y1="62.01" x2="363.49" y2="68.13" stroke="#0a0aff" stroke-width="1.1"/>
<line x1="361.09" y1="62.01" x2="365.89" y2="62.01" stroke="#0a0aff" stroke-width="1.1"/>
<line x1="361.09" y1="68.13" x2="365.89" y2="68.13" stroke="#0a0aff" stroke-width="1.1"/>
<rect x="360.94" y="62.52" width="5.1" height="5.1" fill="#0a0aff"/>
<line x1="378.68" y1="66.6" x2="378.68" y2="72.72" stroke="#0a0aff" stroke-width="1.1"/>
<line x1="376.28" y1="66.6" x2="381.08" y2="66.6" stroke="#0a0aff" stroke-width="1.1"/>
<line x1="376.28" y1="72.72" x2="381.08" y2="72.72" stroke="#0a0aff" stroke-width="1.1"/>
<rect x="376.13" y="67.11" width="5.1" height="5.1" fill="#0a0aff"/>
<line x1="415.28" y1="77" x2="415.28" y2="82.1" stroke="#0a0aff" stroke-width="1.1"/>
<line x1="412.88" y1="77" x2="417.68" y2="77" stroke="#0a0aff" stroke-width="1.1"/>
<line x1="412.88" y1="82.1" x2="417.68" y2="82.1" stroke="#0a0aff" stroke-width="1.1"/>
<rect x="412.73" y="77" width="5.1" height="5.1" fill="#0a0aff"/>
<line x1="268.88" y1="58.64" x2="268.88" y2="72.92" stroke="#0a0aff" stroke-width="1.1"/>
<line x1="266.48" y1="58.64" x2="271.28" y2="58.64" stroke="#0a0aff" stroke-width="1.1"/>
<line x1="266.48" y1="72.92" x2="271.28" y2="72.92" stroke="#0a0aff" stroke-width="1.1"/>
<circle cx="268.88" cy="65.78" r="2.68" fill="#0a0aff"/>
<line x1="305.48" y1="50.99" x2="305.48" y2="67.31" stroke="#0a0aff" stroke-width="1.1"/>
<line x1="303.08" y1="50.99" x2="307.88" y2="50.99" stroke="#0a0aff" stroke-width="1.1"/>
<line x1="303.08" y1="67.31" x2="307.88" y2="67.31" stroke="#0a0aff" stroke-width="1.1"/>
<circle cx="305.48" cy="59.15" r="2.68" fill="#0a0aff"/>
<line x1="342.08" y1="55.07" x2="342.08" y2="63.23" stroke="#0a0aff" stroke-width="1.1"/>
<line x1="339.68" y1="55.07" x2="344.48" y2="55.07" stroke="#0a0aff" stroke-width="1.1"/>
<line x1="339.68" y1="63.23" x2="344.48" y2="63.23" stroke="#0a0aff" stroke-width="1.1"/>
<circle cx="342.08" cy="59.15" r="2.68" fill="#0a0aff"/>
<line x1="363.49" y1="71.19" x2="363.49" y2="75.27" stroke="#0a0aff" stroke-width="1.1"/>
<line x1="361.09" y1="71.19" x2="365.89" y2="71.19" stroke="#0a0aff" stroke-width="1.1"/>
<line x1="361.09" y1="75.27" x2="365.89" y2="75.27" stroke="#0a0aff" stroke-width="1.1"/>
<circle cx="363.49" cy="73.23" r="2.68" fill="#0a0aff"/>
<line x1="378.68" y1="76.39" x2="378.68" y2="80.47" stroke="#0a0aff" stroke-width="1.1"/>
<line x1="376.28" y1="76.39" x2="381.08" y2="76.39" stroke="#0a0aff" stroke-width="1.1"/>
<line x1="376.28" y1="80.47" x2="381.08" y2="80.47" stroke="#0a0aff" stroke-width="1.1"/>
<circle cx="378.68" cy="78.43" r="2.68" fill="#0a0aff"/>
<line x1="415.28" y1="85.26" x2="415.28" y2="89.34" stroke="#0a0aff" stroke-width="1.1"/>
<line x1="412.88" y1="85.26" x2="417.68" y2="85.26" stroke="#0a0aff" stroke-width="1.1"/>
<line x1="412.88" y1="89.34" x2="417.68" y2="89.34" stroke="#0a0aff" stroke-width="1.1"/>
<circle cx="415.28" cy="87.3" r="2.68" fill="#0a0aff"/>
<line x1="268.88" y1="55.58" x2="268.88" y2="61.7" stroke="#0a0aff" stroke-width="1.1"/>
<line x1="266.48" y1="55.58" x2="271.28" y2="55.58" stroke="#0a0aff" stroke-width="1.1"/>
<line x1="266.48" y1="61.7" x2="271.28" y2="61.7" stroke="#0a0aff" stroke-width="1.1"/>
<polygon points="268.88,55.58 271.82,60.93 265.95,60.93" fill="#0a0aff"/>
<line x1="305.48" y1="56.6" x2="305.48" y2="64.76" stroke="#0a0aff" stroke-width="1.1"/>
<line x1="303.08" y1="56.6" x2="307.88" y2="56.6" stroke="#0a0aff" stroke-width="1.1"/>
<line x1="303.08" y1="64.76" x2="307.88" y2="64.76" stroke="#0a0aff" stroke-width="1.1"/>
<polygon points="305.48,57.62 308.42,62.97 302.55,62.97" fill="#0a0aff"/>
<line x1="342.08" y1="64.96" x2="342.08" y2="69.04" stroke="#0a0aff" stroke-width="1.1"/>
<line x1="339.68" y1="64.96" x2="344.48" y2="64.96" stroke="#0a0aff" stroke-width="1.1"/>
<line x1="339.68" y1="69.04" x2="344.48" y2="69.04" stroke="#0a0aff" stroke-width="1.1"/>
<polygon points="342.08,63.94 345.02,69.3 339.15,69.3" fill="#0a0aff"/>
<line x1="363.49" y1="69.35" x2="363.49" y2="73.43" stroke="#0a0aff" stroke-width="1.1"/>
<line x1="361.09" y1="69.35" x2="365.89" y2="69.35" stroke="#0a0aff" stroke-width="1.1"/>
<line x1="361.09" y1="73.43" x2="365.89" y2="73.43" stroke="#0a0aff" stroke-width="1.1"/>
<polygon points="363.49,68.33 366.42,73.68 360.56,73.68" fill="#0a0aff"/>
<line x1="378.68" y1="77" x2="378.68" y2="81.08" stroke="#0a0aff" stroke-width="1.1"/>
<line x1="376.28" y1="77" x2="381.08" y2="77" stroke="#0a0aff" stroke-width="1.1"/>
<line x1="376.28" y1="81.08" x2="381.08" y2="81.08" stroke="#0a0aff" stroke-width="1.1"/>
<polygon points="378.68,75.98 381.62,81.33 375.75,81.33" fill="#0a0aff"/>
<line x1="415.28" y1="83.43" x2="415.28" y2="87.51" stroke="#0a0aff" stroke-width="1.1"/>
<line x1="412.88" y1="83.43" x2="417.68" y2="83.43" stroke="#0a0aff" stroke-width="1.1"/>
<line x1="412.88" y1="87.51" x2="417.68" y2="87.51" stroke="#0a0aff" stroke-width="1.1"/>
<polygon points="415.28,82.41 418.22,87.76 412.35,87.76" fill="#0a0aff"/>
<line x1="356.6" y1="27.2" x2="367.3" y2="27.2" stroke="#0a0aff" stroke-width="1.3"/>
<rect x="360.05" y="25.3" width="3.8" height="3.8" fill="#0a0aff"/>
<text x="373.4" y="29.8" font-size="7.8" fill="#444" textLength="63.3" lengthAdjust="spacingAndGlyphs" stroke="#444" stroke-width="0.25">0Gy SU-DIPG-24</text>
<line x1="356.6" y1="40.6" x2="367.3" y2="40.6" stroke="#0a0aff" stroke-width="1.3" stroke-dasharray="3.2,2"/>
<circle cx="361.95" cy="40.6" r="1.99" fill="#0a0aff"/>
<text x="373.4" y="43.2" font-size="7.8" fill="#444" textLength="63.3" lengthAdjust="spacingAndGlyphs" stroke="#444" stroke-width="0.25">2Gy SU-DIPG-24</text>
<line x1="356.6" y1="53.7" x2="367.3" y2="53.7" stroke="#0a0aff" stroke-width="1.3" stroke-dasharray="1.3,1.9"/>
<polygon points="361.95,51.42 364.14,55.41 359.77,55.41" fill="#0a0aff"/>
<text x="373.4" y="56.4" font-size="7.8" fill="#444" textLength="63.3" lengthAdjust="spacingAndGlyphs" stroke="#444" stroke-width="0.25">4Gy SU-DIPG-24</text>
<text x="260.5" y="115.1" font-size="9.9" fill="#222" textLength="89" lengthAdjust="spacingAndGlyphs" stroke="#222" stroke-width="0.25">0Gy: AUC= 80.48%</text>
<text x="260.5" y="125.2" font-size="9.9" fill="#222" textLength="89" lengthAdjust="spacingAndGlyphs" stroke="#222" stroke-width="0.25">2Gy: AUC= 75.02%</text>
<text x="260.5" y="135.2" font-size="9.9" fill="#222" textLength="89" lengthAdjust="spacingAndGlyphs" stroke="#222" stroke-width="0.25">4Gy: AUC= 76.83%</text>
<text x="264.9" y="149.7" font-size="9.9" fill="#222" textLength="41.7" lengthAdjust="spacingAndGlyphs" stroke="#222" stroke-width="0.25">P&lt;0.0001</text>
<text x="545.8" y="11.9" font-size="10.8" fill="#1a1a1a" font-weight="bold" textLength="61.7" lengthAdjust="spacingAndGlyphs" stroke="#1a1a1a" stroke-width="0.12">SU-DIPG-33</text>
<line x1="491.6" y1="36.2" x2="491.6" y2="161.8" stroke="#1a1a1a" stroke-width="1.35"/>
<line x1="491" y1="158.6" x2="674.6" y2="158.6" stroke="#1a1a1a" stroke-width="1.35"/>
<line x1="488.4" y1="158.6" x2="491.6" y2="158.6" stroke="#1a1a1a" stroke-width="1.2"/>
<text x="487.2" y="161.7" font-size="8.7" fill="#1a1a1a" text-anchor="end" font-weight="bold" stroke="#1a1a1a" stroke-width="0.12">0</text>
<line x1="488.4" y1="138.2" x2="491.6" y2="138.2" stroke="#1a1a1a" stroke-width="1.2"/>
<text x="487.2" y="141.3" font-size="8.7" fill="#1a1a1a" text-anchor="end" font-weight="bold" stroke="#1a1a1a" stroke-width="0.12">20</text>
<line x1="488.4" y1="117.8" x2="491.6" y2="117.8" stroke="#1a1a1a" stroke-width="1.2"/>
<text x="487.2" y="120.9" font-size="8.7" fill="#1a1a1a" text-anchor="end" font-weight="bold" stroke="#1a1a1a" stroke-width="0.12">40</text>
<line x1="488.4" y1="97.4" x2="491.6" y2="97.4" stroke="#1a1a1a" stroke-width="1.2"/>
<text x="487.2" y="100.5" font-size="8.7" fill="#1a1a1a" text-anchor="end" font-weight="bold" stroke="#1a1a1a" stroke-width="0.12">60</text>
<line x1="488.4" y1="77" x2="491.6" y2="77" stroke="#1a1a1a" stroke-width="1.2"/>
<text x="487.2" y="80.1" font-size="8.7" fill="#1a1a1a" text-anchor="end" font-weight="bold" stroke="#1a1a1a" stroke-width="0.12">80</text>
<line x1="488.4" y1="56.6" x2="491.6" y2="56.6" stroke="#1a1a1a" stroke-width="1.2"/>
<text x="487.2" y="59.7" font-size="8.7" fill="#1a1a1a" text-anchor="end" font-weight="bold" stroke="#1a1a1a" stroke-width="0.12">100</text>
<line x1="488.4" y1="36.2" x2="491.6" y2="36.2" stroke="#1a1a1a" stroke-width="1.2"/>
<text x="487.2" y="39.3" font-size="8.7" fill="#1a1a1a" text-anchor="end" font-weight="bold" stroke="#1a1a1a" stroke-width="0.12">120</text>
<line x1="491.6" y1="158.6" x2="491.6" y2="161.8" stroke="#1a1a1a" stroke-width="1.2"/>
<text x="491.6" y="172" font-size="8.7" fill="#1a1a1a" text-anchor="middle" font-weight="bold" stroke="#1a1a1a" stroke-width="0.12">64</text>
<line x1="528.2" y1="158.6" x2="528.2" y2="161.8" stroke="#1a1a1a" stroke-width="1.2"/>
<text x="528.2" y="172" font-size="8.7" fill="#1a1a1a" text-anchor="middle" font-weight="bold" stroke="#1a1a1a" stroke-width="0.12">128</text>
<line x1="564.8" y1="158.6" x2="564.8" y2="161.8" stroke="#1a1a1a" stroke-width="1.2"/>
<text x="564.8" y="172" font-size="8.7" fill="#1a1a1a" text-anchor="middle" font-weight="bold" stroke="#1a1a1a" stroke-width="0.12">256</text>
<line x1="601.4" y1="158.6" x2="601.4" y2="161.8" stroke="#1a1a1a" stroke-width="1.2"/>
<text x="601.4" y="172" font-size="8.7" fill="#1a1a1a" text-anchor="middle" font-weight="bold" stroke="#1a1a1a" stroke-width="0.12">512</text>
<line x1="638" y1="158.6" x2="638" y2="161.8" stroke="#1a1a1a" stroke-width="1.2"/>
<text x="638" y="172" font-size="8.7" fill="#1a1a1a" text-anchor="middle" font-weight="bold" stroke="#1a1a1a" stroke-width="0.12">1024</text>
<line x1="674.6" y1="158.6" x2="674.6" y2="161.8" stroke="#1a1a1a" stroke-width="1.2"/>
<text x="674.6" y="172" font-size="8.7" fill="#1a1a1a" text-anchor="middle" font-weight="bold" stroke="#1a1a1a" stroke-width="0.12">2048</text>
<text x="465.5" y="96.8" font-size="9.8" fill="#1a1a1a" text-anchor="middle" font-weight="bold" textLength="58.3" lengthAdjust="spacingAndGlyphs" transform="rotate(-90 465.5 96.8)" stroke="#1a1a1a" stroke-width="0.12">Proliferation</text>
<text x="583.5" y="186.2" font-size="9.4" fill="#1a1a1a" text-anchor="middle" font-weight="bold" textLength="84" lengthAdjust="spacingAndGlyphs" stroke="#1a1a1a" stroke-width="0.12">Berzosertib in nM</text>
<polyline points="491.6,56.38 493.08,56.39 494.56,56.4 496.04,56.42 497.52,56.44 499,56.45 500.48,56.47 501.96,56.49 503.44,56.51 504.92,56.54 506.41,56.56 507.89,56.59 509.37,56.62 510.85,56.65 512.33,56.68 513.81,56.72 515.29,56.75 516.77,56.8 518.25,56.84 519.73,56.89 521.21,56.94 522.69,56.99 524.17,57.05 525.65,57.11 527.13,57.18 528.61,57.25 530.09,57.33 531.57,57.41 533.06,57.5 534.54,57.6 536.02,57.7 537.5,57.81 538.98,57.93 540.46,58.05 541.94,58.19 543.42,58.33 544.9,58.49 546.38,58.65 547.86,58.83 549.34,59.02 550.82,59.22 552.3,59.43 553.78,59.66 555.26,59.9 556.74,60.17 558.22,60.44 559.7,60.74 561.19,61.05 562.67,61.39 564.15,61.74 565.63,62.12 567.11,62.52 568.59,62.95 570.07,63.39 571.55,63.87 573.03,64.37 574.51,64.9 575.99,65.46 577.47,66.05 578.95,66.67 580.43,67.32 581.91,68 583.39,68.71 584.87,69.45 586.35,70.23 587.84,71.04 589.32,71.88 590.8,72.75 592.28,73.66 593.76,74.59 595.24,75.56 596.72,76.55 598.2,77.57 599.68,78.61 601.16,79.67 602.64,80.76 604.12,81.87 605.6,82.99 607.08,84.12 608.56,85.27 610.04,86.42 611.52,87.58 613,88.74 614.48,89.9 615.97,91.06 617.45,92.2 618.93,93.34 620.41,94.47 621.89,95.58 623.37,96.67 624.85,97.74 626.33,98.79 627.81,99.81 629.29,100.81 630.77,101.78 632.25,102.72 633.73,103.63 635.21,104.51 636.69,105.35 638.17,106.17 639.65,106.95 641.13,107.7 642.62,108.42 644.1,109.11 645.58,109.77 647.06,110.39 648.54,110.98 650.02,111.55 651.5,112.08 652.98,112.59 654.46,113.07 655.94,113.53 657.42,113.96 658.9,114.36 660.38,114.74 661.86,115.1 663.34,115.44 664.82,115.76 666.3,116.06 667.78,116.34" fill="none" stroke="#36902a" stroke-width="1.5"/>
<polyline points="491.6,57.19 493.08,57.25 494.56,57.32 496.04,57.39 497.52,57.46 499,57.54 500.48,57.62 501.96,57.7 503.44,57.79 504.92,57.89 506.41,57.99 507.89,58.1 509.37,58.21 510.85,58.33 512.33,58.46 513.81,58.59 515.29,58.73 516.77,58.88 518.25,59.03 519.73,59.2 521.21,59.37 522.69,59.56 524.17,59.75 525.65,59.95 527.13,60.17 528.61,60.39 530.09,60.63 531.57,60.88 533.06,61.14 534.54,61.42 536.02,61.71 537.5,62.01 538.98,62.33 540.46,62.66 541.94,63.01 543.42,63.38 544.9,63.76 546.38,64.16 547.86,64.58 549.34,65.02 550.82,65.47 552.3,65.95 553.78,66.44 555.26,66.95 556.74,67.48 558.22,68.04 559.7,68.61 561.19,69.21 562.67,69.82 564.15,70.46 565.63,71.11 567.11,71.79 568.59,72.48 570.07,73.2 571.55,73.93 573.03,74.69 574.51,75.46 575.99,76.25 577.47,77.05 578.95,77.88 580.43,78.71 581.91,79.56 583.39,80.42 584.87,81.29 586.35,82.18 587.84,83.07 589.32,83.97 590.8,84.87 592.28,85.78 593.76,86.69 595.24,87.6 596.72,88.51 598.2,89.42 599.68,90.32 601.16,91.22 602.64,92.11 604.12,93 605.6,93.87 607.08,94.74 608.56,95.59 610.04,96.43 611.52,97.25 613,98.06 614.48,98.85 615.97,99.63 617.45,100.38 618.93,101.12 620.41,101.84 621.89,102.54 623.37,103.22 624.85,103.88 626.33,104.52 627.81,105.14 629.29,105.74 630.77,106.31 632.25,106.87 633.73,107.41 635.21,107.93 636.69,108.42 638.17,108.9 639.65,109.36 641.13,109.8 642.62,110.22 644.1,110.62 645.58,111.01 647.06,111.38 648.54,111.73 650.02,112.07 651.5,112.39 652.98,112.69 654.46,112.99 655.94,113.26 657.42,113.53 658.9,113.78 660.38,114.02 661.86,114.25 663.34,114.47 664.82,114.67 666.3,114.87 667.78,115.05" fill="none" stroke="#36902a" stroke-width="1.4" stroke-dasharray="3.2,2"/>
<polyline points="491.6,60.31 493.08,60.52 494.56,60.72 496.04,60.94 497.52,61.16 499,61.38 500.48,61.62 501.96,61.86 503.44,62.11 504.92,62.36 506.41,62.62 507.89,62.89 509.37,63.17 510.85,63.46 512.33,63.75 513.81,64.05 515.29,64.36 516.77,64.68 518.25,65.01 519.73,65.34 521.21,65.69 522.69,66.04 524.17,66.4 525.65,66.77 527.13,67.15 528.61,67.54 530.09,67.94 531.57,68.35 533.06,68.76 534.54,69.19 536.02,69.62 537.5,70.06 538.98,70.52 540.46,70.98 541.94,71.45 543.42,71.93 544.9,72.42 546.38,72.91 547.86,73.42 549.34,73.93 550.82,74.46 552.3,74.99 553.78,75.53 555.26,76.07 556.74,76.63 558.22,77.19 559.7,77.76 561.19,78.34 562.67,78.92 564.15,79.51 565.63,80.1 567.11,80.7 568.59,81.31 570.07,81.92 571.55,82.54 573.03,83.16 574.51,83.78 575.99,84.41 577.47,85.04 578.95,85.67 580.43,86.31 581.91,86.95 583.39,87.59 584.87,88.23 586.35,88.87 587.84,89.51 589.32,90.15 590.8,90.78 592.28,91.42 593.76,92.06 595.24,92.69 596.72,93.32 598.2,93.95 599.68,94.58 601.16,95.2 602.64,95.82 604.12,96.43 605.6,97.04 607.08,97.64 608.56,98.23 610.04,98.83 611.52,99.41 613,99.99 614.48,100.56 615.97,101.12 617.45,101.68 618.93,102.23 620.41,102.77 621.89,103.3 623.37,103.83 624.85,104.35 626.33,104.85 627.81,105.35 629.29,105.84 630.77,106.33 632.25,106.8 633.73,107.26 635.21,107.72 636.69,108.16 638.17,108.6 639.65,109.03 641.13,109.45 642.62,109.85 644.1,110.25 645.58,110.65 647.06,111.03 648.54,111.4 650.02,111.76 651.5,112.12 652.98,112.47 654.46,112.8 655.94,113.13 657.42,113.45 658.9,113.77 660.38,114.07 661.86,114.37 663.34,114.65 664.82,114.93 666.3,115.21 667.78,115.47" fill="none" stroke="#36902a" stroke-width="1.4" stroke-dasharray="1.3,1.9"/>
<line x1="515.17" y1="52.62" x2="515.17" y2="58.74" stroke="#36902a" stroke-width="1.1"/>
<line x1="512.77" y1="52.62" x2="517.57" y2="52.62" stroke="#36902a" stroke-width="1.1"/>
<line x1="512.77" y1="58.74" x2="517.57" y2="58.74" stroke="#36902a" stroke-width="1.1"/>
<rect x="512.62" y="53.13" width="5.1" height="5.1" fill="#36902a"/>
<line x1="536.57" y1="54.36" x2="536.57" y2="60.48" stroke="#36902a" stroke-width="1.1"/>
<line x1="534.17" y1="54.36" x2="538.97" y2="54.36" stroke="#36902a" stroke-width="1.1"/>
<line x1="534.17" y1="60.48" x2="538.97" y2="60.48" stroke="#36902a" stroke-width="1.1"/>
<rect x="534.02" y="54.87" width="5.1" height="5.1" fill="#36902a"/>
<line x1="557.98" y1="56.8" x2="557.98" y2="64.96" stroke="#36902a" stroke-width="1.1"/>
<line x1="555.58" y1="56.8" x2="560.38" y2="56.8" stroke="#36902a" stroke-width="1.1"/>
<line x1="555.58" y1="64.96" x2="560.38" y2="64.96" stroke="#36902a" stroke-width="1.1"/>
<rect x="555.43" y="58.33" width="5.1" height="5.1" fill="#36902a"/>
<line x1="573.17" y1="61.7" x2="573.17" y2="65.78" stroke="#36902a" stroke-width="1.1"/>
<line x1="570.77" y1="61.7" x2="575.57" y2="61.7" stroke="#36902a" stroke-width="1.1"/>
<line x1="570.77" y1="65.78" x2="575.57" y2="65.78" stroke="#36902a" stroke-width="1.1"/>
<rect x="570.62" y="61.19" width="5.1" height="5.1" fill="#36902a"/>
<line x1="588.37" y1="69.45" x2="588.37" y2="75.57" stroke="#36902a" stroke-width="1.1"/>
<line x1="585.97" y1="69.45" x2="590.77" y2="69.45" stroke="#36902a" stroke-width="1.1"/>
<line x1="585.97" y1="75.57" x2="590.77" y2="75.57" stroke="#36902a" stroke-width="1.1"/>
<rect x="585.82" y="69.96" width="5.1" height="5.1" fill="#36902a"/>
<line x1="600.15" y1="77.92" x2="600.15" y2="84.04" stroke="#36902a" stroke-width="1.1"/>
<line x1="597.75" y1="77.92" x2="602.55" y2="77.92" stroke="#36902a" stroke-width="1.1"/>
<line x1="597.75" y1="84.04" x2="602.55" y2="84.04" stroke="#36902a" stroke-width="1.1"/>
<rect x="597.6" y="78.43" width="5.1" height="5.1" fill="#36902a"/>
<line x1="609.77" y1="78.94" x2="609.77" y2="85.06" stroke="#36902a" stroke-width="1.1"/>
<line x1="607.37" y1="78.94" x2="612.17" y2="78.94" stroke="#36902a" stroke-width="1.1"/>
<line x1="607.37" y1="85.06" x2="612.17" y2="85.06" stroke="#36902a" stroke-width="1.1"/>
<rect x="607.22" y="79.45" width="5.1" height="5.1" fill="#36902a"/>
<line x1="621.56" y1="92.1" x2="621.56" y2="100.26" stroke="#36902a" stroke-width="1.1"/>
<line x1="619.16" y1="92.1" x2="623.96" y2="92.1" stroke="#36902a" stroke-width="1.1"/>
<line x1="619.16" y1="100.26" x2="623.96" y2="100.26" stroke="#36902a" stroke-width="1.1"/>
<rect x="619.01" y="93.63" width="5.1" height="5.1" fill="#36902a"/>
<line x1="631.18" y1="99.13" x2="631.18" y2="107.29" stroke="#36902a" stroke-width="1.1"/>
<line x1="628.78" y1="99.13" x2="633.58" y2="99.13" stroke="#36902a" stroke-width="1.1"/>
<line x1="628.78" y1="107.29" x2="633.58" y2="107.29" stroke="#36902a" stroke-width="1.1"/>
<rect x="628.63" y="100.66" width="5.1" height="5.1" fill="#36902a"/>
<line x1="646.37" y1="108.21" x2="646.37" y2="112.29" stroke="#36902a" stroke-width="1.1"/>
<line x1="643.97" y1="108.21" x2="648.77" y2="108.21" stroke="#36902a" stroke-width="1.1"/>
<line x1="643.97" y1="112.29" x2="648.77" y2="112.29" stroke="#36902a" stroke-width="1.1"/>
<rect x="643.82" y="107.7" width="5.1" height="5.1" fill="#36902a"/>
<line x1="667.78" y1="114.13" x2="667.78" y2="118.21" stroke="#36902a" stroke-width="1.1"/>
<line x1="665.38" y1="114.13" x2="670.18" y2="114.13" stroke="#36902a" stroke-width="1.1"/>
<line x1="665.38" y1="118.21" x2="670.18" y2="118.21" stroke="#36902a" stroke-width="1.1"/>
<rect x="665.23" y="113.62" width="5.1" height="5.1" fill="#36902a"/>
<line x1="515.17" y1="56.09" x2="515.17" y2="62.21" stroke="#36902a" stroke-width="1.1"/>
<line x1="512.77" y1="56.09" x2="517.57" y2="56.09" stroke="#36902a" stroke-width="1.1"/>
<line x1="512.77" y1="62.21" x2="517.57" y2="62.21" stroke="#36902a" stroke-width="1.1"/>
<circle cx="515.17" cy="59.15" r="2.68" fill="#36902a"/>
<line x1="536.57" y1="58.95" x2="536.57" y2="65.07" stroke="#36902a" stroke-width="1.1"/>
<line x1="534.17" y1="58.95" x2="538.97" y2="58.95" stroke="#36902a" stroke-width="1.1"/>
<line x1="534.17" y1="65.07" x2="538.97" y2="65.07" stroke="#36902a" stroke-width="1.1"/>
<circle cx="536.57" cy="62.01" r="2.68" fill="#36902a"/>
<line x1="557.98" y1="64.86" x2="557.98" y2="70.98" stroke="#36902a" stroke-width="1.1"/>
<line x1="555.58" y1="64.86" x2="560.38" y2="64.86" stroke="#36902a" stroke-width="1.1"/>
<line x1="555.58" y1="70.98" x2="560.38" y2="70.98" stroke="#36902a" stroke-width="1.1"/>
<circle cx="557.98" cy="67.92" r="2.68" fill="#36902a"/>
<line x1="573.17" y1="70.88" x2="573.17" y2="77" stroke="#36902a" stroke-width="1.1"/>
<line x1="570.77" y1="70.88" x2="575.57" y2="70.88" stroke="#36902a" stroke-width="1.1"/>
<line x1="570.77" y1="77" x2="575.57" y2="77" stroke="#36902a" stroke-width="1.1"/>
<circle cx="573.17" cy="73.94" r="2.68" fill="#36902a"/>
<line x1="588.37" y1="80.77" x2="588.37" y2="86.89" stroke="#36902a" stroke-width="1.1"/>
<line x1="585.97" y1="80.77" x2="590.77" y2="80.77" stroke="#36902a" stroke-width="1.1"/>
<line x1="585.97" y1="86.89" x2="590.77" y2="86.89" stroke="#36902a" stroke-width="1.1"/>
<circle cx="588.37" cy="83.83" r="2.68" fill="#36902a"/>
<line x1="600.15" y1="87.1" x2="600.15" y2="93.22" stroke="#36902a" stroke-width="1.1"/>
<line x1="597.75" y1="87.1" x2="602.55" y2="87.1" stroke="#36902a" stroke-width="1.1"/>
<line x1="597.75" y1="93.22" x2="602.55" y2="93.22" stroke="#36902a" stroke-width="1.1"/>
<circle cx="600.15" cy="90.16" r="2.68" fill="#36902a"/>
<line x1="609.77" y1="94.85" x2="609.77" y2="100.97" stroke="#36902a" stroke-width="1.1"/>
<line x1="607.37" y1="94.85" x2="612.17" y2="94.85" stroke="#36902a" stroke-width="1.1"/>
<line x1="607.37" y1="100.97" x2="612.17" y2="100.97" stroke="#36902a" stroke-width="1.1"/>
<circle cx="609.77" cy="97.91" r="2.68" fill="#36902a"/>
<line x1="621.56" y1="98.32" x2="621.56" y2="104.44" stroke="#36902a" stroke-width="1.1"/>
<line x1="619.16" y1="98.32" x2="623.96" y2="98.32" stroke="#36902a" stroke-width="1.1"/>
<line x1="619.16" y1="104.44" x2="623.96" y2="104.44" stroke="#36902a" stroke-width="1.1"/>
<circle cx="621.56" cy="101.38" r="2.68" fill="#36902a"/>
<line x1="631.18" y1="103.62" x2="631.18" y2="109.74" stroke="#36902a" stroke-width="1.1"/>
<line x1="628.78" y1="103.62" x2="633.58" y2="103.62" stroke="#36902a" stroke-width="1.1"/>
<line x1="628.78" y1="109.74" x2="633.58" y2="109.74" stroke="#36902a" stroke-width="1.1"/>
<circle cx="631.18" cy="106.68" r="2.68" fill="#36902a"/>
<line x1="646.37" y1="108.21" x2="646.37" y2="112.29" stroke="#36902a" stroke-width="1.1"/>
<line x1="643.97" y1="108.21" x2="648.77" y2="108.21" stroke="#36902a" stroke-width="1.1"/>
<line x1="643.97" y1="112.29" x2="648.77" y2="112.29" stroke="#36902a" stroke-width="1.1"/>
<circle cx="646.37" cy="110.25" r="2.68" fill="#36902a"/>
<line x1="667.78" y1="112.9" x2="667.78" y2="116.98" stroke="#36902a" stroke-width="1.1"/>
<line x1="665.38" y1="112.9" x2="670.18" y2="112.9" stroke="#36902a" stroke-width="1.1"/>
<line x1="665.38" y1="116.98" x2="670.18" y2="116.98" stroke="#36902a" stroke-width="1.1"/>
<circle cx="667.78" cy="114.94" r="2.68" fill="#36902a"/>
<line x1="515.17" y1="64.15" x2="515.17" y2="70.27" stroke="#36902a" stroke-width="1.1"/>
<line x1="512.77" y1="64.15" x2="517.57" y2="64.15" stroke="#36902a" stroke-width="1.1"/>
<line x1="512.77" y1="70.27" x2="517.57" y2="70.27" stroke="#36902a" stroke-width="1.1"/>
<polygon points="515.17,64.15 518.1,69.5 512.23,69.5" fill="#36902a"/>
<line x1="536.57" y1="67.41" x2="536.57" y2="75.57" stroke="#36902a" stroke-width="1.1"/>
<line x1="534.17" y1="67.41" x2="538.97" y2="67.41" stroke="#36902a" stroke-width="1.1"/>
<line x1="534.17" y1="75.57" x2="538.97" y2="75.57" stroke="#36902a" stroke-width="1.1"/>
<polygon points="536.57,68.43 539.51,73.79 533.64,73.79" fill="#36902a"/>
<line x1="557.98" y1="73.74" x2="557.98" y2="79.86" stroke="#36902a" stroke-width="1.1"/>
<line x1="555.58" y1="73.74" x2="560.38" y2="73.74" stroke="#36902a" stroke-width="1.1"/>
<line x1="555.58" y1="79.86" x2="560.38" y2="79.86" stroke="#36902a" stroke-width="1.1"/>
<polygon points="557.98,73.74 560.92,79.09 555.05,79.09" fill="#36902a"/>
<line x1="573.17" y1="77.92" x2="573.17" y2="84.04" stroke="#36902a" stroke-width="1.1"/>
<line x1="570.77" y1="77.92" x2="575.57" y2="77.92" stroke="#36902a" stroke-width="1.1"/>
<line x1="570.77" y1="84.04" x2="575.57" y2="84.04" stroke="#36902a" stroke-width="1.1"/>
<polygon points="573.17,77.92 576.11,83.27 570.24,83.27" fill="#36902a"/>
<line x1="588.37" y1="85.98" x2="588.37" y2="92.1" stroke="#36902a" stroke-width="1.1"/>
<line x1="585.97" y1="85.98" x2="590.77" y2="85.98" stroke="#36902a" stroke-width="1.1"/>
<line x1="585.97" y1="92.1" x2="590.77" y2="92.1" stroke="#36902a" stroke-width="1.1"/>
<polygon points="588.37,85.98 591.3,91.33 585.43,91.33" fill="#36902a"/>
<line x1="600.15" y1="91.28" x2="600.15" y2="97.4" stroke="#36902a" stroke-width="1.1"/>
<line x1="597.75" y1="91.28" x2="602.55" y2="91.28" stroke="#36902a" stroke-width="1.1"/>
<line x1="597.75" y1="97.4" x2="602.55" y2="97.4" stroke="#36902a" stroke-width="1.1"/>
<polygon points="600.15,91.28 603.08,96.63 597.22,96.63" fill="#36902a"/>
<line x1="609.77" y1="95.87" x2="609.77" y2="101.99" stroke="#36902a" stroke-width="1.1"/>
<line x1="607.37" y1="95.87" x2="612.17" y2="95.87" stroke="#36902a" stroke-width="1.1"/>
<line x1="607.37" y1="101.99" x2="612.17" y2="101.99" stroke="#36902a" stroke-width="1.1"/>
<polygon points="609.77,95.87 612.71,101.22 606.84,101.22" fill="#36902a"/>
<line x1="621.56" y1="100.77" x2="621.56" y2="106.89" stroke="#36902a" stroke-width="1.1"/>
<line x1="619.16" y1="100.77" x2="623.96" y2="100.77" stroke="#36902a" stroke-width="1.1"/>
<line x1="619.16" y1="106.89" x2="623.96" y2="106.89" stroke="#36902a" stroke-width="1.1"/>
<polygon points="621.56,100.77 624.49,106.12 618.62,106.12" fill="#36902a"/>
<line x1="631.18" y1="105.36" x2="631.18" y2="111.48" stroke="#36902a" stroke-width="1.1"/>
<line x1="628.78" y1="105.36" x2="633.58" y2="105.36" stroke="#36902a" stroke-width="1.1"/>
<line x1="628.78" y1="111.48" x2="633.58" y2="111.48" stroke="#36902a" stroke-width="1.1"/>
<polygon points="631.18,105.36 634.12,110.71 628.25,110.71" fill="#36902a"/>
<line x1="646.37" y1="109.13" x2="646.37" y2="113.21" stroke="#36902a" stroke-width="1.1"/>
<line x1="643.97" y1="109.13" x2="648.77" y2="109.13" stroke="#36902a" stroke-width="1.1"/>
<line x1="643.97" y1="113.21" x2="648.77" y2="113.21" stroke="#36902a" stroke-width="1.1"/>
<polygon points="646.37,108.11 649.31,113.46 643.44,113.46" fill="#36902a"/>
<line x1="667.78" y1="112.9" x2="667.78" y2="116.98" stroke="#36902a" stroke-width="1.1"/>
<line x1="665.38" y1="112.9" x2="670.18" y2="112.9" stroke="#36902a" stroke-width="1.1"/>
<line x1="665.38" y1="116.98" x2="670.18" y2="116.98" stroke="#36902a" stroke-width="1.1"/>
<polygon points="667.78,111.88 670.72,117.24 664.85,117.24" fill="#36902a"/>
<line x1="577.2" y1="28.8" x2="587.7" y2="28.8" stroke="#36902a" stroke-width="1.3"/>
<rect x="580.55" y="26.9" width="3.8" height="3.8" fill="#36902a"/>
<text x="593.6" y="31.1" font-size="7.8" fill="#444" textLength="60.2" lengthAdjust="spacingAndGlyphs" stroke="#444" stroke-width="0.25">0Gy SU-DIPG-33</text>
<line x1="577.2" y1="41.9" x2="587.7" y2="41.9" stroke="#36902a" stroke-width="1.3" stroke-dasharray="3.2,2"/>
<circle cx="582.45" cy="41.9" r="1.99" fill="#36902a"/>
<text x="593.6" y="44" font-size="7.8" fill="#444" textLength="60.2" lengthAdjust="spacingAndGlyphs" stroke="#444" stroke-width="0.25">2Gy SU-DIPG-33</text>
<line x1="577.2" y1="54.5" x2="587.7" y2="54.5" stroke="#36902a" stroke-width="1.3" stroke-dasharray="1.3,1.9"/>
<polygon points="582.45,52.22 584.63,56.21 580.27,56.21" fill="#36902a"/>
<text x="593.6" y="56.8" font-size="7.8" fill="#444" textLength="60.2" lengthAdjust="spacingAndGlyphs" stroke="#444" stroke-width="0.25">4Gy SU-DIPG-33</text>
<text x="496.9" y="116.7" font-size="9.9" fill="#222" textLength="88.5" lengthAdjust="spacingAndGlyphs" stroke="#222" stroke-width="0.25">0Gy: AUC= 63.74%</text>
<text x="496.9" y="126.8" font-size="9.9" fill="#222" textLength="88.5" lengthAdjust="spacingAndGlyphs" stroke="#222" stroke-width="0.25">2Gy: AUC= 59.44%</text>
<text x="496.9" y="137.3" font-size="9.9" fill="#222" textLength="88.5" lengthAdjust="spacingAndGlyphs" stroke="#222" stroke-width="0.25">4Gy: AUC= 58.51%</text>
<text x="498.6" y="148.9" font-size="9.9" fill="#222" textLength="41.7" lengthAdjust="spacingAndGlyphs" stroke="#222" stroke-width="0.25">P&lt;0.0001</text>
<line x1="139.01" y1="282.85" x2="49.97" y2="312.76" stroke="#3a3a3a" stroke-width="0.75" stroke-dasharray="1.6,1.6"/>
<line x1="139.01" y1="282.85" x2="197.49" y2="338.16" stroke="#3a3a3a" stroke-width="0.75" stroke-dasharray="1.6,1.6"/>
<line x1="139.01" y1="282.85" x2="141.78" y2="193.32" stroke="#3a3a3a" stroke-width="0.75" stroke-dasharray="1.6,1.6"/>
<line x1="42.49" y1="219.29" x2="141.78" y2="193.32" stroke="#3a3a3a" stroke-width="0.7"/>
<line x1="141.78" y1="193.32" x2="207.97" y2="242.24" stroke="#3a3a3a" stroke-width="0.7"/>
<polygon points="133.27,229.07 143.48,228.52 139.09,230.03 128.98,231.21" fill="#ee989d" stroke="#2a2a2a" stroke-width="0.6" stroke-linejoin="round"/>
<polygon points="122.82,230.84 133.27,229.07 128.98,231.21 118.64,233.3" fill="#ee989d" stroke="#2a2a2a" stroke-width="0.6" stroke-linejoin="round"/>
<polygon points="137.69,227.66 147.98,227.66 143.48,228.52 133.27,229.07" fill="#ee898e" stroke="#2a2a2a" stroke-width="0.6" stroke-linejoin="round"/>
<polygon points="112.15,234.21 122.82,230.84 118.64,233.3 108.11,236.55" fill="#ee989d" stroke="#2a2a2a" stroke-width="0.6" stroke-linejoin="round"/>
<polygon points="127.12,229.16 137.69,227.66 133.27,229.07 122.82,230.84" fill="#ef7a7f" stroke="#2a2a2a" stroke-width="0.6" stroke-linejoin="round"/>
<polygon points="101.32,239.34 112.15,234.21 108.11,236.55 97.43,241.11" fill="#ee989d" stroke="#2a2a2a" stroke-width="0.6" stroke-linejoin="round"/>
<polygon points="142.18,228.29 152.54,228.61 147.98,227.66 137.69,227.66" fill="#f06b6f" stroke="#2a2a2a" stroke-width="0.6" stroke-linejoin="round"/>
<polygon points="90.39,246.21 101.32,239.34 97.43,241.11 86.63,246.95" fill="#efa7ac" stroke="#2a2a2a" stroke-width="0.6" stroke-linejoin="round"/>
<polygon points="116.31,232.63 127.12,229.16 122.82,230.84 112.15,234.21" fill="#ef7a7f" stroke="#2a2a2a" stroke-width="0.6" stroke-linejoin="round"/>
<polygon points="79.42,254.54 90.39,246.21 86.63,246.95 75.76,253.88" fill="#f1b7bb" stroke="#2a2a2a" stroke-width="0.6" stroke-linejoin="round"/>
<polygon points="146.67,231.92 157.08,232.21 152.54,228.61 142.18,228.29" fill="#f06b6f" stroke="#2a2a2a" stroke-width="0.6" stroke-linejoin="round"/>
<polygon points="131.51,229.65 142.18,228.29 137.69,227.66 127.12,229.16" fill="#f06b6f" stroke="#2a2a2a" stroke-width="0.6" stroke-linejoin="round"/>
<polygon points="68.43,263.94 79.42,254.54 75.76,253.88 64.83,261.62" fill="#f6d8db" stroke="#2a2a2a" stroke-width="0.6" stroke-linejoin="round"/>
<polygon points="57.44,273.86 68.43,263.94 64.83,261.62 53.84,269.78" fill="#ffffff" stroke="#2a2a2a" stroke-width="0.6" stroke-linejoin="round"/>
<polygon points="105.34,238.29 116.31,232.63 112.15,234.21 101.32,239.34" fill="#ef7a7f" stroke="#2a2a2a" stroke-width="0.6" stroke-linejoin="round"/>
<polygon points="151.13,238.7 161.56,238.57 157.08,232.21 146.67,231.92" fill="#f06b6f" stroke="#2a2a2a" stroke-width="0.6" stroke-linejoin="round"/>
<polygon points="94.28,246.08 105.34,238.29 101.32,239.34 90.39,246.21" fill="#ee898e" stroke="#2a2a2a" stroke-width="0.6" stroke-linejoin="round"/>
<polygon points="120.6,233.21 131.51,229.65 127.12,229.16 116.31,232.63" fill="#f25c5f" stroke="#2a2a2a" stroke-width="0.6" stroke-linejoin="round"/>
<polygon points="135.95,233.33 146.67,231.92 142.18,228.29 131.51,229.65" fill="#f25c5f" stroke="#2a2a2a" stroke-width="0.6" stroke-linejoin="round"/>
<polygon points="83.19,255.67 94.28,246.08 90.39,246.21 79.42,254.54" fill="#efa7ac" stroke="#2a2a2a" stroke-width="0.6" stroke-linejoin="round"/>
<polygon points="61.1,278.02 72.13,266.54 68.43,263.94 57.44,273.86" fill="#f9e8ea" stroke="#2a2a2a" stroke-width="0.6" stroke-linejoin="round"/>
<polygon points="72.13,266.54 83.19,255.67 79.42,254.54 68.43,263.94" fill="#f3c7cb" stroke="#2a2a2a" stroke-width="0.6" stroke-linejoin="round"/>
<polygon points="155.53,247.85 165.99,247.03 161.56,238.57 151.13,238.7" fill="#ee898e" stroke="#2a2a2a" stroke-width="0.6" stroke-linejoin="round"/>
<polygon points="109.5,239.22 120.6,233.21 116.31,232.63 105.34,238.29" fill="#f06b6f" stroke="#2a2a2a" stroke-width="0.6" stroke-linejoin="round"/>
<polygon points="159.92,258.06 170.4,256.44 165.99,247.03 155.53,247.85" fill="#ee989d" stroke="#2a2a2a" stroke-width="0.6" stroke-linejoin="round"/>
<polygon points="140.38,240.37 151.13,238.7 146.67,231.92 135.95,233.33" fill="#f06b6f" stroke="#2a2a2a" stroke-width="0.6" stroke-linejoin="round"/>
<polygon points="124.96,236.96 135.95,233.33 131.51,229.65 120.6,233.21" fill="#f25c5f" stroke="#2a2a2a" stroke-width="0.6" stroke-linejoin="round"/>
<polygon points="164.35,268 174.86,265.62 170.4,256.44 159.92,258.06" fill="#f1b7bb" stroke="#2a2a2a" stroke-width="0.6" stroke-linejoin="round"/>
<polygon points="98.31,247.61 109.5,239.22 105.34,238.29 94.28,246.08" fill="#ef7a7f" stroke="#2a2a2a" stroke-width="0.6" stroke-linejoin="round"/>
<polygon points="64.85,282.26 75.95,269.81 72.13,266.54 61.1,278.02" fill="#f9e8ea" stroke="#2a2a2a" stroke-width="0.6" stroke-linejoin="round"/>
<polygon points="87.11,258 98.31,247.61 94.28,246.08 83.19,255.67" fill="#ee989d" stroke="#2a2a2a" stroke-width="0.6" stroke-linejoin="round"/>
<polygon points="144.78,249.93 155.53,247.85 151.13,238.7 140.38,240.37" fill="#ef7a7f" stroke="#2a2a2a" stroke-width="0.6" stroke-linejoin="round"/>
<polygon points="168.89,276.8 179.44,273.82 174.86,265.62 164.35,268" fill="#f6d8db" stroke="#2a2a2a" stroke-width="0.6" stroke-linejoin="round"/>
<polygon points="75.95,269.81 87.11,258 83.19,255.67 72.13,266.54" fill="#f1b7bb" stroke="#2a2a2a" stroke-width="0.6" stroke-linejoin="round"/>
<polygon points="113.77,243.07 124.96,236.96 120.6,233.21 109.5,239.22" fill="#f25c5f" stroke="#2a2a2a" stroke-width="0.6" stroke-linejoin="round"/>
<polygon points="149.16,260.61 159.92,258.06 155.53,247.85 144.78,249.93" fill="#ee989d" stroke="#2a2a2a" stroke-width="0.6" stroke-linejoin="round"/>
<polygon points="129.35,244.04 140.38,240.37 135.95,233.33 124.96,236.96" fill="#f25c5f" stroke="#2a2a2a" stroke-width="0.6" stroke-linejoin="round"/>
<polygon points="173.58,284.18 184.19,280.76 179.44,273.82 168.89,276.8" fill="#f9e8ea" stroke="#2a2a2a" stroke-width="0.6" stroke-linejoin="round"/>
<polygon points="153.59,270.99 164.35,268 159.92,258.06 149.16,260.61" fill="#f1b7bb" stroke="#2a2a2a" stroke-width="0.6" stroke-linejoin="round"/>
<polygon points="102.48,251.56 113.77,243.07 109.5,239.22 98.31,247.61" fill="#ef7a7f" stroke="#2a2a2a" stroke-width="0.6" stroke-linejoin="round"/>
<polygon points="68.67,286.6 79.89,274.01 75.95,269.81 64.85,282.26" fill="#f9e8ea" stroke="#2a2a2a" stroke-width="0.6" stroke-linejoin="round"/>
<polygon points="133.75,253.64 144.78,249.93 140.38,240.37 129.35,244.04" fill="#ef7a7f" stroke="#2a2a2a" stroke-width="0.6" stroke-linejoin="round"/>
<polygon points="158.11,280.15 168.89,276.8 164.35,268 153.59,270.99" fill="#f6d8db" stroke="#2a2a2a" stroke-width="0.6" stroke-linejoin="round"/>
<polygon points="91.17,262.07 102.48,251.56 98.31,247.61 87.11,258" fill="#ee989d" stroke="#2a2a2a" stroke-width="0.6" stroke-linejoin="round"/>
<polygon points="79.89,274.01 91.17,262.07 87.11,258 75.95,269.81" fill="#f1b7bb" stroke="#2a2a2a" stroke-width="0.6" stroke-linejoin="round"/>
<polygon points="178.45,290.31 189.11,286.62 184.19,280.76 173.58,284.18" fill="#ffffff" stroke="#2a2a2a" stroke-width="0.6" stroke-linejoin="round"/>
<polygon points="118.12,249.96 129.35,244.04 124.96,236.96 113.77,243.07" fill="#f06b6f" stroke="#2a2a2a" stroke-width="0.6" stroke-linejoin="round"/>
<polygon points="138.15,264.34 149.16,260.61 144.78,249.93 133.75,253.64" fill="#ee989d" stroke="#2a2a2a" stroke-width="0.6" stroke-linejoin="round"/>
<polygon points="162.76,287.8 173.58,284.18 168.89,276.8 158.11,280.15" fill="#f9e8ea" stroke="#2a2a2a" stroke-width="0.6" stroke-linejoin="round"/>
<polygon points="142.59,274.75 153.59,270.99 149.16,260.61 138.15,264.34" fill="#f1b7bb" stroke="#2a2a2a" stroke-width="0.6" stroke-linejoin="round"/>
<polygon points="106.76,258.04 118.12,249.96 113.77,243.07 102.48,251.56" fill="#ef7a7f" stroke="#2a2a2a" stroke-width="0.6" stroke-linejoin="round"/>
<polygon points="122.51,259.16 133.75,253.64 129.35,244.04 118.12,249.96" fill="#ef7a7f" stroke="#2a2a2a" stroke-width="0.6" stroke-linejoin="round"/>
<polygon points="183.48,295.59 194.2,291.73 189.11,286.62 178.45,290.31" fill="#ffffff" stroke="#2a2a2a" stroke-width="0.6" stroke-linejoin="round"/>
<polygon points="72.57,291.02 83.95,279.19 79.89,274.01 68.67,286.6" fill="#f9e8ea" stroke="#2a2a2a" stroke-width="0.6" stroke-linejoin="round"/>
<polygon points="95.35,267.96 106.76,258.04 102.48,251.56 91.17,262.07" fill="#ee989d" stroke="#2a2a2a" stroke-width="0.6" stroke-linejoin="round"/>
<polygon points="83.95,279.19 95.35,267.96 91.17,262.07 79.89,274.01" fill="#f1b7bb" stroke="#2a2a2a" stroke-width="0.6" stroke-linejoin="round"/>
<polygon points="147.1,283.95 158.11,280.15 153.59,270.99 142.59,274.75" fill="#f6d8db" stroke="#2a2a2a" stroke-width="0.6" stroke-linejoin="round"/>
<polygon points="167.58,294.11 178.45,290.31 173.58,284.18 162.76,287.8" fill="#ffffff" stroke="#2a2a2a" stroke-width="0.6" stroke-linejoin="round"/>
<polygon points="126.92,269.39 138.15,264.34 133.75,253.64 122.51,259.16" fill="#ee989d" stroke="#2a2a2a" stroke-width="0.6" stroke-linejoin="round"/>
<polygon points="111.11,266.45 122.51,259.16 118.12,249.96 106.76,258.04" fill="#ee898e" stroke="#2a2a2a" stroke-width="0.6" stroke-linejoin="round"/>
<polygon points="151.73,291.66 162.76,287.8 158.11,280.15 147.1,283.95" fill="#f9e8ea" stroke="#2a2a2a" stroke-width="0.6" stroke-linejoin="round"/>
<polygon points="131.36,279.37 142.59,274.75 138.15,264.34 126.92,269.39" fill="#f1b7bb" stroke="#2a2a2a" stroke-width="0.6" stroke-linejoin="round"/>
<polygon points="99.63,275.24 111.11,266.45 106.76,258.04 95.35,267.96" fill="#efa7ac" stroke="#2a2a2a" stroke-width="0.6" stroke-linejoin="round"/>
<polygon points="115.51,275.73 126.92,269.39 122.51,259.16 111.11,266.45" fill="#efa7ac" stroke="#2a2a2a" stroke-width="0.6" stroke-linejoin="round"/>
<polygon points="76.55,295.54 88.1,285.13 83.95,279.19 72.57,291.02" fill="#f9e8ea" stroke="#2a2a2a" stroke-width="0.6" stroke-linejoin="round"/>
<polygon points="88.1,285.13 99.63,275.24 95.35,267.96 83.95,279.19" fill="#f3c7cb" stroke="#2a2a2a" stroke-width="0.6" stroke-linejoin="round"/>
<polygon points="172.55,299.53 183.48,295.59 178.45,290.31 167.58,294.11" fill="#ffffff" stroke="#2a2a2a" stroke-width="0.6" stroke-linejoin="round"/>
<polygon points="135.87,288.26 147.1,283.95 142.59,274.75 131.36,279.37" fill="#f6d8db" stroke="#2a2a2a" stroke-width="0.6" stroke-linejoin="round"/>
<polygon points="156.5,298.04 167.58,294.11 162.76,287.8 151.73,291.66" fill="#ffffff" stroke="#2a2a2a" stroke-width="0.6" stroke-linejoin="round"/>
<polygon points="119.95,284.84 131.36,279.37 126.92,269.39 115.51,275.73" fill="#f3c7cb" stroke="#2a2a2a" stroke-width="0.6" stroke-linejoin="round"/>
<polygon points="103.97,283.18 115.51,275.73 111.11,266.45 99.63,275.24" fill="#f1b7bb" stroke="#2a2a2a" stroke-width="0.6" stroke-linejoin="round"/>
<polygon points="140.48,295.78 151.73,291.66 147.1,283.95 135.87,288.26" fill="#f9e8ea" stroke="#2a2a2a" stroke-width="0.6" stroke-linejoin="round"/>
<polygon points="92.33,291.46 103.97,283.18 99.63,275.24 88.1,285.13" fill="#f6d8db" stroke="#2a2a2a" stroke-width="0.6" stroke-linejoin="round"/>
<polygon points="124.44,293.06 135.87,288.26 131.36,279.37 119.95,284.84" fill="#f6d8db" stroke="#2a2a2a" stroke-width="0.6" stroke-linejoin="round"/>
<polygon points="80.62,300.16 92.33,291.46 88.1,285.13 76.55,295.54" fill="#ffffff" stroke="#2a2a2a" stroke-width="0.6" stroke-linejoin="round"/>
<polygon points="108.36,291.04 119.95,284.84 115.51,275.73 103.97,283.18" fill="#f6d8db" stroke="#2a2a2a" stroke-width="0.6" stroke-linejoin="round"/>
<polygon points="161.41,303.54 172.55,299.53 167.58,294.11 156.5,298.04" fill="#ffffff" stroke="#2a2a2a" stroke-width="0.6" stroke-linejoin="round"/>
<polygon points="145.2,302.11 156.5,298.04 151.73,291.66 140.48,295.78" fill="#ffffff" stroke="#2a2a2a" stroke-width="0.6" stroke-linejoin="round"/>
<polygon points="96.64,297.8 108.36,291.04 103.97,283.18 92.33,291.46" fill="#f9e8ea" stroke="#2a2a2a" stroke-width="0.6" stroke-linejoin="round"/>
<polygon points="129.02,300.17 140.48,295.78 135.87,288.26 124.44,293.06" fill="#f9e8ea" stroke="#2a2a2a" stroke-width="0.6" stroke-linejoin="round"/>
<polygon points="112.82,298.3 124.44,293.06 119.95,284.84 108.36,291.04" fill="#f9e8ea" stroke="#2a2a2a" stroke-width="0.6" stroke-linejoin="round"/>
<polygon points="84.77,304.87 96.64,297.8 92.33,291.46 80.62,300.16" fill="#ffffff" stroke="#2a2a2a" stroke-width="0.6" stroke-linejoin="round"/>
<polygon points="150.05,307.62 161.41,303.54 156.5,298.04 145.2,302.11" fill="#ffffff" stroke="#2a2a2a" stroke-width="0.6" stroke-linejoin="round"/>
<polygon points="133.69,306.31 145.2,302.11 140.48,295.78 129.02,300.17" fill="#ffffff" stroke="#2a2a2a" stroke-width="0.6" stroke-linejoin="round"/>
<polygon points="101.01,303.89 112.82,298.3 108.36,291.04 96.64,297.8" fill="#f9e8ea" stroke="#2a2a2a" stroke-width="0.6" stroke-linejoin="round"/>
<polygon points="117.34,304.81 129.02,300.17 124.44,293.06 112.82,298.3" fill="#ffffff" stroke="#2a2a2a" stroke-width="0.6" stroke-linejoin="round"/>
<polygon points="89.02,309.69 101.01,303.89 96.64,297.8 84.77,304.87" fill="#ffffff" stroke="#2a2a2a" stroke-width="0.6" stroke-linejoin="round"/>
<polygon points="138.47,311.79 150.05,307.62 145.2,302.11 133.69,306.31" fill="#ffffff" stroke="#2a2a2a" stroke-width="0.6" stroke-linejoin="round"/>
<polygon points="105.46,309.64 117.34,304.81 112.82,298.3 101.01,303.89" fill="#ffffff" stroke="#2a2a2a" stroke-width="0.6" stroke-linejoin="round"/>
<polygon points="121.95,310.64 133.69,306.31 129.02,300.17 117.34,304.81" fill="#ffffff" stroke="#2a2a2a" stroke-width="0.6" stroke-linejoin="round"/>
<polygon points="93.36,314.62 105.46,309.64 101.01,303.89 89.02,309.69" fill="#ffffff" stroke="#2a2a2a" stroke-width="0.6" stroke-linejoin="round"/>
<polygon points="109.99,315.09 121.95,310.64 117.34,304.81 105.46,309.64" fill="#ffffff" stroke="#2a2a2a" stroke-width="0.6" stroke-linejoin="round"/>
<polygon points="126.66,316.04 138.47,311.79 133.69,306.31 121.95,310.64" fill="#ffffff" stroke="#2a2a2a" stroke-width="0.6" stroke-linejoin="round"/>
<polygon points="97.8,319.65 109.99,315.09 105.46,309.64 93.36,314.62" fill="#ffffff" stroke="#2a2a2a" stroke-width="0.6" stroke-linejoin="round"/>
<polygon points="114.62,320.38 126.66,316.04 121.95,310.64 109.99,315.09" fill="#ffffff" stroke="#2a2a2a" stroke-width="0.6" stroke-linejoin="round"/>
<polygon points="102.34,324.8 114.62,320.38 109.99,315.09 97.8,319.65" fill="#ffffff" stroke="#2a2a2a" stroke-width="0.6" stroke-linejoin="round"/>
<line x1="42.49" y1="219.29" x2="98.91" y2="277.18" stroke="#3a3a3a" stroke-width="0.7"/>
<line x1="98.91" y1="277.18" x2="207.97" y2="242.24" stroke="#3a3a3a" stroke-width="0.7"/>
<line x1="100.67" y1="377.07" x2="98.91" y2="277.18" stroke="#3a3a3a" stroke-width="0.7"/>
<line x1="49.97" y1="312.76" x2="42.49" y2="219.29" stroke="#3a3a3a" stroke-width="0.7"/>
<line x1="197.49" y1="338.16" x2="207.97" y2="242.24" stroke="#3a3a3a" stroke-width="0.7"/>
<line x1="100.67" y1="377.07" x2="49.97" y2="312.76" stroke="#3a3a3a" stroke-width="0.7"/>
<line x1="100.67" y1="377.07" x2="197.49" y2="338.16" stroke="#3a3a3a" stroke-width="0.7"/>
<line x1="37.09" y1="219.29" x2="42.49" y2="219.29" stroke="#3a3a3a" stroke-width="0.8"/>
<text x="29.29" y="220.84" font-size="8.6" fill="#222" text-anchor="middle" stroke="#222" stroke-width="0.25">30</text>
<line x1="38.46" y1="236.37" x2="43.86" y2="236.37" stroke="#3a3a3a" stroke-width="0.8"/>
<text x="29.97" y="237.72" font-size="8.6" fill="#222" text-anchor="middle" stroke="#222" stroke-width="0.25">20</text>
<line x1="39.77" y1="252.8" x2="45.17" y2="252.8" stroke="#3a3a3a" stroke-width="0.8"/>
<text x="30.61" y="253.95" font-size="8.6" fill="#222" text-anchor="middle" stroke="#222" stroke-width="0.25">10</text>
<line x1="41.04" y1="268.62" x2="46.44" y2="268.62" stroke="#3a3a3a" stroke-width="0.8"/>
<text x="31.19" y="269.57" font-size="8.6" fill="#222" text-anchor="middle" stroke="#222" stroke-width="0.25">0</text>
<line x1="42.26" y1="283.87" x2="47.66" y2="283.87" stroke="#3a3a3a" stroke-width="0.8"/>
<text x="31.73" y="284.62" font-size="8.6" fill="#222" text-anchor="middle" stroke="#222" stroke-width="0.25">-10</text>
<line x1="43.44" y1="298.57" x2="48.84" y2="298.57" stroke="#3a3a3a" stroke-width="0.8"/>
<text x="32.22" y="299.12" font-size="8.6" fill="#222" text-anchor="middle" stroke="#222" stroke-width="0.25">-20</text>
<line x1="44.57" y1="312.76" x2="49.97" y2="312.76" stroke="#3a3a3a" stroke-width="0.8"/>
<text x="32.67" y="313.11" font-size="8.6" fill="#222" text-anchor="middle" stroke="#222" stroke-width="0.25">-30</text>
<text x="19.7" y="268.4" font-size="11" fill="#1a1a1a" text-anchor="middle" textLength="37.5" lengthAdjust="spacingAndGlyphs" transform="rotate(-90 19.7 268.4)" stroke="#1a1a1a" stroke-width="0.25">δ-score</text>
<line x1="97.8" y1="373.42" x2="94.8" y2="376.82" stroke="#3a3a3a" stroke-width="0.8"/>
<text x="91.4" y="386.52" font-size="8.8" fill="#222" text-anchor="middle" stroke="#222" stroke-width="0.25">0</text>
<line x1="81.35" y1="352.56" x2="78.35" y2="355.96" stroke="#3a3a3a" stroke-width="0.8"/>
<text x="74.95" y="365.66" font-size="8.8" fill="#222" text-anchor="middle" stroke="#222" stroke-width="0.25">300</text>
<line x1="66.21" y1="333.35" x2="63.21" y2="336.75" stroke="#3a3a3a" stroke-width="0.8"/>
<text x="59.81" y="346.45" font-size="8.8" fill="#222" text-anchor="middle" stroke="#222" stroke-width="0.25">600</text>
<line x1="52.2" y1="315.59" x2="49.2" y2="318.99" stroke="#3a3a3a" stroke-width="0.8"/>
<text x="44.6" y="328.69" font-size="8.8" fill="#222" text-anchor="middle" stroke="#222" stroke-width="0.25">1200</text>
<line x1="105.9" y1="374.97" x2="107.1" y2="378.37" stroke="#3a3a3a" stroke-width="0.8"/>
<text x="109.5" y="389.47" font-size="8.8" fill="#222" text-anchor="middle" stroke="#222" stroke-width="0.25">0</text>
<line x1="151.06" y1="356.82" x2="152.26" y2="360.22" stroke="#3a3a3a" stroke-width="0.8"/>
<text x="153.96" y="371.32" font-size="8.8" fill="#222" text-anchor="middle" stroke="#222" stroke-width="0.25">2</text>
<line x1="193.01" y1="339.96" x2="194.21" y2="343.36" stroke="#3a3a3a" stroke-width="0.8"/>
<text x="195.21" y="354.46" font-size="8.8" fill="#222" text-anchor="middle" stroke="#222" stroke-width="0.25">4</text>
<text x="26.65" y="349" font-size="9.4" fill="#222" textLength="45.5" lengthAdjust="spacingAndGlyphs" transform="rotate(52 26.65 349)" stroke="#222" stroke-width="0.25">Berzosertib</text>
<text x="26.2" y="363" font-size="9.4" fill="#222" transform="rotate(52 26.2 363)" stroke="#222" stroke-width="0.25">in nM</text>
<text x="151" y="390.4" font-size="9.4" fill="#222" textLength="41.5" lengthAdjust="spacingAndGlyphs" transform="rotate(-21.5 151 390.4)" stroke="#222" stroke-width="0.25">Irradiation</text>
<text x="163.4" y="394.4" font-size="9.4" fill="#222" textLength="23.3" lengthAdjust="spacingAndGlyphs" transform="rotate(-21.5 163.4 394.4)" stroke="#222" stroke-width="0.25">in Gy</text>
<text x="75.6" y="408.5" font-size="11.2" fill="#1a1a1a" font-weight="bold" textLength="89.9" lengthAdjust="spacingAndGlyphs" stroke="#1a1a1a" stroke-width="0.12">Bliss-score: 11.1</text>
<rect x="19.15" y="419.7" width="11.25" height="12.6" fill="#ffffff"/>
<rect x="30" y="419.7" width="12.8" height="12.6" fill="#f9e8ea"/>
<rect x="42.4" y="419.7" width="12.8" height="12.6" fill="#f6d8db"/>
<rect x="54.8" y="419.7" width="12.8" height="12.6" fill="#f3c7cb"/>
<rect x="67.2" y="419.7" width="12.8" height="12.6" fill="#f1b7bb"/>
<rect x="79.6" y="419.7" width="12.8" height="12.6" fill="#efa7ac"/>
<rect x="92" y="419.7" width="12.8" height="12.6" fill="#ee989d"/>
<rect x="104.4" y="419.7" width="12.8" height="12.6" fill="#ee898e"/>
<rect x="116.8" y="419.7" width="12.8" height="12.6" fill="#ef7a7f"/>
<rect x="129.2" y="419.7" width="12.8" height="12.6" fill="#f06b6f"/>
<rect x="141.6" y="419.7" width="12.8" height="12.6" fill="#f25c5f"/>
<rect x="154" y="419.7" width="12.8" height="12.6" fill="#f44d4f"/>
<rect x="166.4" y="419.7" width="12.8" height="12.6" fill="#f73e3f"/>
<rect x="178.8" y="419.7" width="12.8" height="12.6" fill="#fa302c"/>
<rect x="191.2" y="419.7" width="12.8" height="12.6" fill="#fc2420"/>
<rect x="203.6" y="419.7" width="13.3" height="12.6" fill="#ff1a0c"/>
<rect x="18.65" y="419" width="199.35" height="14" fill="none" stroke="#a9b9e0" stroke-width="1.1"/>
<text x="24.95" y="443" font-size="8.8" fill="#222" text-anchor="middle" stroke="#222" stroke-width="0.25">0</text>
<text x="88.63" y="443" font-size="8.8" fill="#222" text-anchor="middle" stroke="#222" stroke-width="0.25">10</text>
<text x="152.32" y="443" font-size="8.8" fill="#222" text-anchor="middle" stroke="#222" stroke-width="0.25">20</text>
<text x="216" y="443" font-size="8.8" fill="#222" text-anchor="middle" stroke="#222" stroke-width="0.25">30</text>
<line x1="366.81" y1="284.25" x2="277.77" y2="314.16" stroke="#3a3a3a" stroke-width="0.75" stroke-dasharray="1.6,1.6"/>
<line x1="366.81" y1="284.25" x2="425.29" y2="339.56" stroke="#3a3a3a" stroke-width="0.75" stroke-dasharray="1.6,1.6"/>
<line x1="366.81" y1="284.25" x2="369.58" y2="194.72" stroke="#3a3a3a" stroke-width="0.75" stroke-dasharray="1.6,1.6"/>
<line x1="270.29" y1="220.69" x2="369.58" y2="194.72" stroke="#3a3a3a" stroke-width="0.7"/>
<line x1="369.58" y1="194.72" x2="435.77" y2="243.64" stroke="#3a3a3a" stroke-width="0.7"/>
<polygon points="361.36,217.58 371.69,217.86 367.32,216.77 357.06,216.71" fill="#fc2420" stroke="#2a2a2a" stroke-width="0.6" stroke-linejoin="round"/>
<polygon points="350.77,217.96 361.36,217.58 357.06,216.71 346.54,217.25" fill="#ff1a0c" stroke="#2a2a2a" stroke-width="0.6" stroke-linejoin="round"/>
<polygon points="365.78,218.48 376.18,218.98 371.69,217.86 361.36,217.58" fill="#ff1a0c" stroke="#2a2a2a" stroke-width="0.6" stroke-linejoin="round"/>
<polygon points="339.92,219.17 350.77,217.96 346.54,217.25 335.79,218.57" fill="#ff1a0c" stroke="#2a2a2a" stroke-width="0.6" stroke-linejoin="round"/>
<polygon points="370.31,219.61 380.77,220.33 376.18,218.98 365.78,218.48" fill="#ff1a0c" stroke="#2a2a2a" stroke-width="0.6" stroke-linejoin="round"/>
<polygon points="355.1,218.68 365.78,218.48 361.36,217.58 350.77,217.96" fill="#ff1a0c" stroke="#2a2a2a" stroke-width="0.6" stroke-linejoin="round"/>
<polygon points="285.24,275.26 295.97,260.54 292.3,257.4 281.64,271.18" fill="#f6d8db" stroke="#2a2a2a" stroke-width="0.6" stroke-linejoin="round"/>
<polygon points="328.86,222.78 339.92,219.17 335.79,218.57 324.85,222.08" fill="#ff1a0c" stroke="#2a2a2a" stroke-width="0.6" stroke-linejoin="round"/>
<polygon points="295.97,260.54 306.87,247.2 303.1,244.92 292.3,257.4" fill="#ee898e" stroke="#2a2a2a" stroke-width="0.6" stroke-linejoin="round"/>
<polygon points="344.16,219.79 355.1,218.68 350.77,217.96 339.92,219.17" fill="#ff1a0c" stroke="#2a2a2a" stroke-width="0.6" stroke-linejoin="round"/>
<polygon points="374.91,221.69 385.43,222.52 380.77,220.33 370.31,219.61" fill="#ff1a0c" stroke="#2a2a2a" stroke-width="0.6" stroke-linejoin="round"/>
<polygon points="317.86,235.41 328.86,222.78 324.85,222.08 313.98,233.88" fill="#fc2420" stroke="#2a2a2a" stroke-width="0.6" stroke-linejoin="round"/>
<polygon points="306.87,247.2 317.86,235.41 313.98,233.88 303.1,244.92" fill="#f25c5f" stroke="#2a2a2a" stroke-width="0.6" stroke-linejoin="round"/>
<polygon points="359.55,219.66 370.31,219.61 365.78,218.48 355.1,218.68" fill="#ff1a0c" stroke="#2a2a2a" stroke-width="0.6" stroke-linejoin="round"/>
<polygon points="288.9,279.42 299.73,263.74 295.97,260.54 285.24,275.26" fill="#f6d8db" stroke="#2a2a2a" stroke-width="0.6" stroke-linejoin="round"/>
<polygon points="332.99,223.49 344.16,219.79 339.92,219.17 328.86,222.78" fill="#ff1a0c" stroke="#2a2a2a" stroke-width="0.6" stroke-linejoin="round"/>
<polygon points="379.63,223.82 390.21,224.77 385.43,222.52 374.91,221.69" fill="#ff1a0c" stroke="#2a2a2a" stroke-width="0.6" stroke-linejoin="round"/>
<polygon points="299.73,263.74 310.72,249.53 306.87,247.2 295.97,260.54" fill="#ee898e" stroke="#2a2a2a" stroke-width="0.6" stroke-linejoin="round"/>
<polygon points="348.51,220.67 359.55,219.66 355.1,218.68 344.16,219.79" fill="#ff1a0c" stroke="#2a2a2a" stroke-width="0.6" stroke-linejoin="round"/>
<polygon points="364.09,221.65 374.91,221.69 370.31,219.61 359.55,219.66" fill="#ff1a0c" stroke="#2a2a2a" stroke-width="0.6" stroke-linejoin="round"/>
<polygon points="310.72,249.53 321.84,236.98 317.86,235.41 306.87,247.2" fill="#f44d4f" stroke="#2a2a2a" stroke-width="0.6" stroke-linejoin="round"/>
<polygon points="321.84,236.98 332.99,223.49 328.86,222.78 317.86,235.41" fill="#ff1a0c" stroke="#2a2a2a" stroke-width="0.6" stroke-linejoin="round"/>
<polygon points="292.65,283.66 303.57,267.09 299.73,263.74 288.9,279.42" fill="#f6d8db" stroke="#2a2a2a" stroke-width="0.6" stroke-linejoin="round"/>
<polygon points="384.41,227.27 395.02,228.21 390.21,224.77 379.63,223.82" fill="#ff1a0c" stroke="#2a2a2a" stroke-width="0.6" stroke-linejoin="round"/>
<polygon points="337.22,224.47 348.51,220.67 344.16,219.79 332.99,223.49" fill="#ff1a0c" stroke="#2a2a2a" stroke-width="0.6" stroke-linejoin="round"/>
<polygon points="303.57,267.09 314.68,252.06 310.72,249.53 299.73,263.74" fill="#ef7a7f" stroke="#2a2a2a" stroke-width="0.6" stroke-linejoin="round"/>
<polygon points="368.74,223.7 379.63,223.82 374.91,221.69 364.09,221.65" fill="#ff1a0c" stroke="#2a2a2a" stroke-width="0.6" stroke-linejoin="round"/>
<polygon points="352.97,222.63 364.09,221.65 359.55,219.66 348.51,220.67" fill="#ff1a0c" stroke="#2a2a2a" stroke-width="0.6" stroke-linejoin="round"/>
<polygon points="314.68,252.06 325.93,238.77 321.84,236.98 310.72,249.53" fill="#f73e3f" stroke="#2a2a2a" stroke-width="0.6" stroke-linejoin="round"/>
<polygon points="325.93,238.77 337.22,224.47 332.99,223.49 321.84,236.98" fill="#ff1a0c" stroke="#2a2a2a" stroke-width="0.6" stroke-linejoin="round"/>
<polygon points="296.47,288 307.51,270.8 303.57,267.09 292.65,283.66" fill="#f6d8db" stroke="#2a2a2a" stroke-width="0.6" stroke-linejoin="round"/>
<polygon points="389.24,231.69 399.89,232.52 395.02,228.21 384.41,227.27" fill="#ff1a0c" stroke="#2a2a2a" stroke-width="0.6" stroke-linejoin="round"/>
<polygon points="307.51,270.8 318.75,255.19 314.68,252.06 303.57,267.09" fill="#ef7a7f" stroke="#2a2a2a" stroke-width="0.6" stroke-linejoin="round"/>
<polygon points="341.58,226.51 352.97,222.63 348.51,220.67 337.22,224.47" fill="#ff1a0c" stroke="#2a2a2a" stroke-width="0.6" stroke-linejoin="round"/>
<polygon points="373.46,227.17 384.41,227.27 379.63,223.82 368.74,223.7" fill="#ff1a0c" stroke="#2a2a2a" stroke-width="0.6" stroke-linejoin="round"/>
<polygon points="357.54,224.63 368.74,223.7 364.09,221.65 352.97,222.63" fill="#ff1a0c" stroke="#2a2a2a" stroke-width="0.6" stroke-linejoin="round"/>
<polygon points="318.75,255.19 330.13,241.39 325.93,238.77 314.68,252.06" fill="#fa302c" stroke="#2a2a2a" stroke-width="0.6" stroke-linejoin="round"/>
<polygon points="330.13,241.39 341.58,226.51 337.22,224.47 325.93,238.77" fill="#ff1a0c" stroke="#2a2a2a" stroke-width="0.6" stroke-linejoin="round"/>
<polygon points="300.37,292.42 311.53,274.59 307.51,270.8 296.47,288" fill="#f3c7cb" stroke="#2a2a2a" stroke-width="0.6" stroke-linejoin="round"/>
<polygon points="394.16,236.2 404.86,236.92 399.89,232.52 389.24,231.69" fill="#ff1a0c" stroke="#2a2a2a" stroke-width="0.6" stroke-linejoin="round"/>
<polygon points="411.28,296.99 422,293.13 417.63,280.24 406.93,283.13" fill="#f9e8ea" stroke="#2a2a2a" stroke-width="0.6" stroke-linejoin="round"/>
<polygon points="406.93,283.13 417.63,280.24 413.42,265.4 402.73,267.08" fill="#ee989d" stroke="#2a2a2a" stroke-width="0.6" stroke-linejoin="round"/>
<polygon points="402.73,267.08 413.42,265.4 409.06,252.24 398.38,252.86" fill="#f25c5f" stroke="#2a2a2a" stroke-width="0.6" stroke-linejoin="round"/>
<polygon points="398.38,252.86 409.06,252.24 404.86,236.92 394.16,236.2" fill="#ff1a0c" stroke="#2a2a2a" stroke-width="0.6" stroke-linejoin="round"/>
<polygon points="378.24,231.69 389.24,231.69 384.41,227.27 373.46,227.17" fill="#ff1a0c" stroke="#2a2a2a" stroke-width="0.6" stroke-linejoin="round"/>
<polygon points="311.53,274.59 322.91,258.39 318.75,255.19 307.51,270.8" fill="#ef7a7f" stroke="#2a2a2a" stroke-width="0.6" stroke-linejoin="round"/>
<polygon points="346.04,228.61 357.54,224.63 352.97,222.63 341.58,226.51" fill="#ff1a0c" stroke="#2a2a2a" stroke-width="0.6" stroke-linejoin="round"/>
<polygon points="362.19,228.14 373.46,227.17 368.74,223.7 357.54,224.63" fill="#ff1a0c" stroke="#2a2a2a" stroke-width="0.6" stroke-linejoin="round"/>
<polygon points="322.91,258.39 334.44,244.07 330.13,241.39 318.75,255.19" fill="#fa302c" stroke="#2a2a2a" stroke-width="0.6" stroke-linejoin="round"/>
<polygon points="304.35,296.94 315.66,278.86 311.53,274.59 300.37,292.42" fill="#f3c7cb" stroke="#2a2a2a" stroke-width="0.6" stroke-linejoin="round"/>
<polygon points="334.44,244.07 346.04,228.61 341.58,226.51 330.13,241.39" fill="#ff1a0c" stroke="#2a2a2a" stroke-width="0.6" stroke-linejoin="round"/>
<polygon points="400.35,300.93 411.28,296.99 406.93,283.13 395.99,286.26" fill="#f6d8db" stroke="#2a2a2a" stroke-width="0.6" stroke-linejoin="round"/>
<polygon points="395.99,286.26 406.93,283.13 402.73,267.08 391.77,269.2" fill="#ee989d" stroke="#2a2a2a" stroke-width="0.6" stroke-linejoin="round"/>
<polygon points="383.12,236.3 394.16,236.2 389.24,231.69 378.24,231.69" fill="#ff1a0c" stroke="#2a2a2a" stroke-width="0.6" stroke-linejoin="round"/>
<polygon points="315.66,278.86 327.19,262.43 322.91,258.39 311.53,274.59" fill="#ef7a7f" stroke="#2a2a2a" stroke-width="0.6" stroke-linejoin="round"/>
<polygon points="391.77,269.2 402.73,267.08 398.38,252.86 387.39,254.08" fill="#f44d4f" stroke="#2a2a2a" stroke-width="0.6" stroke-linejoin="round"/>
<polygon points="366.91,232.76 378.24,231.69 373.46,227.17 362.19,228.14" fill="#ff1a0c" stroke="#2a2a2a" stroke-width="0.6" stroke-linejoin="round"/>
<polygon points="350.61,232.2 362.19,228.14 357.54,224.63 346.04,228.61" fill="#ff1a0c" stroke="#2a2a2a" stroke-width="0.6" stroke-linejoin="round"/>
<polygon points="387.39,254.08 398.38,252.86 394.16,236.2 383.12,236.3" fill="#ff1a0c" stroke="#2a2a2a" stroke-width="0.6" stroke-linejoin="round"/>
<polygon points="327.19,262.43 338.85,247.89 334.44,244.07 322.91,258.39" fill="#fa302c" stroke="#2a2a2a" stroke-width="0.6" stroke-linejoin="round"/>
<polygon points="308.42,301.56 319.89,283.51 315.66,278.86 304.35,296.94" fill="#f3c7cb" stroke="#2a2a2a" stroke-width="0.6" stroke-linejoin="round"/>
<polygon points="338.85,247.89 350.61,232.2 346.04,228.61 334.44,244.07" fill="#ff1a0c" stroke="#2a2a2a" stroke-width="0.6" stroke-linejoin="round"/>
<polygon points="389.21,304.94 400.35,300.93 395.99,286.26 384.82,289.67" fill="#f6d8db" stroke="#2a2a2a" stroke-width="0.6" stroke-linejoin="round"/>
<polygon points="384.82,289.67 395.99,286.26 391.77,269.2 380.52,271.86" fill="#ee898e" stroke="#2a2a2a" stroke-width="0.6" stroke-linejoin="round"/>
<polygon points="319.89,283.51 331.57,267.09 327.19,262.43 315.66,278.86" fill="#ef7a7f" stroke="#2a2a2a" stroke-width="0.6" stroke-linejoin="round"/>
<polygon points="371.74,237.47 383.12,236.3 378.24,231.69 366.91,232.76" fill="#ff1a0c" stroke="#2a2a2a" stroke-width="0.6" stroke-linejoin="round"/>
<polygon points="355.26,236.89 366.91,232.76 362.19,228.14 350.61,232.2" fill="#ff1a0c" stroke="#2a2a2a" stroke-width="0.6" stroke-linejoin="round"/>
<polygon points="380.52,271.86 391.77,269.2 387.39,254.08 376.09,256.08" fill="#f73e3f" stroke="#2a2a2a" stroke-width="0.6" stroke-linejoin="round"/>
<polygon points="331.57,267.09 343.37,252.56 338.85,247.89 327.19,262.43" fill="#fa302c" stroke="#2a2a2a" stroke-width="0.6" stroke-linejoin="round"/>
<polygon points="312.57,306.27 324.21,288.25 319.89,283.51 308.42,301.56" fill="#f3c7cb" stroke="#2a2a2a" stroke-width="0.6" stroke-linejoin="round"/>
<polygon points="376.09,256.08 387.39,254.08 383.12,236.3 371.74,237.47" fill="#ff1a0c" stroke="#2a2a2a" stroke-width="0.6" stroke-linejoin="round"/>
<polygon points="343.37,252.56 355.26,236.89 350.61,232.2 338.85,247.89" fill="#ff1a0c" stroke="#2a2a2a" stroke-width="0.6" stroke-linejoin="round"/>
<polygon points="377.85,309.02 389.21,304.94 384.82,289.67 373.39,293.76" fill="#f6d8db" stroke="#2a2a2a" stroke-width="0.6" stroke-linejoin="round"/>
<polygon points="373.39,293.76 384.82,289.67 380.52,271.86 368.98,275.99" fill="#ee898e" stroke="#2a2a2a" stroke-width="0.6" stroke-linejoin="round"/>
<polygon points="324.21,288.25 336.03,271.86 331.57,267.09 319.89,283.51" fill="#ef7a7f" stroke="#2a2a2a" stroke-width="0.6" stroke-linejoin="round"/>
<polygon points="360.01,241.67 371.74,237.47 366.91,232.76 355.26,236.89" fill="#ff1a0c" stroke="#2a2a2a" stroke-width="0.6" stroke-linejoin="round"/>
<polygon points="368.98,275.99 380.52,271.86 376.09,256.08 364.48,260.24" fill="#f73e3f" stroke="#2a2a2a" stroke-width="0.6" stroke-linejoin="round"/>
<polygon points="316.82,311.09 328.68,296.89 324.21,288.25 312.57,306.27" fill="#f6d8db" stroke="#2a2a2a" stroke-width="0.6" stroke-linejoin="round"/>
<polygon points="336.03,271.86 347.97,257.33 343.37,252.56 331.57,267.09" fill="#fa302c" stroke="#2a2a2a" stroke-width="0.6" stroke-linejoin="round"/>
<polygon points="366.27,313.19 377.85,309.02 373.39,293.76 361.68,300.3" fill="#f6d8db" stroke="#2a2a2a" stroke-width="0.6" stroke-linejoin="round"/>
<polygon points="364.48,260.24 376.09,256.08 371.74,237.47 360.01,241.67" fill="#ff1a0c" stroke="#2a2a2a" stroke-width="0.6" stroke-linejoin="round"/>
<polygon points="347.97,257.33 360.01,241.67 355.26,236.89 343.37,252.56" fill="#ff1a0c" stroke="#2a2a2a" stroke-width="0.6" stroke-linejoin="round"/>
<polygon points="361.68,300.3 373.39,293.76 368.98,275.99 357.12,285.57" fill="#ee989d" stroke="#2a2a2a" stroke-width="0.6" stroke-linejoin="round"/>
<polygon points="328.68,296.89 340.6,283.97 336.03,271.86 324.21,288.25" fill="#ee898e" stroke="#2a2a2a" stroke-width="0.6" stroke-linejoin="round"/>
<polygon points="357.12,285.57 368.98,275.99 364.48,260.24 352.54,272.46" fill="#f44d4f" stroke="#2a2a2a" stroke-width="0.6" stroke-linejoin="round"/>
<polygon points="340.6,283.97 352.54,272.46 347.97,257.33 336.03,271.86" fill="#f44d4f" stroke="#2a2a2a" stroke-width="0.6" stroke-linejoin="round"/>
<polygon points="352.54,272.46 364.48,260.24 360.01,241.67 347.97,257.33" fill="#ff1a0c" stroke="#2a2a2a" stroke-width="0.6" stroke-linejoin="round"/>
<polygon points="345.2,294.73 357.12,285.57 352.54,272.46 340.6,283.97" fill="#ef7a7f" stroke="#2a2a2a" stroke-width="0.6" stroke-linejoin="round"/>
<polygon points="321.16,316.02 333.19,304.9 328.68,296.89 316.82,311.09" fill="#f9e8ea" stroke="#2a2a2a" stroke-width="0.6" stroke-linejoin="round"/>
<polygon points="333.19,304.9 345.2,294.73 340.6,283.97 328.68,296.89" fill="#efa7ac" stroke="#2a2a2a" stroke-width="0.6" stroke-linejoin="round"/>
<polygon points="349.81,306.71 361.68,300.3 357.12,285.57 345.2,294.73" fill="#f1b7bb" stroke="#2a2a2a" stroke-width="0.6" stroke-linejoin="round"/>
<polygon points="354.46,317.44 366.27,313.19 361.68,300.3 349.81,306.71" fill="#f9e8ea" stroke="#2a2a2a" stroke-width="0.6" stroke-linejoin="round"/>
<polygon points="337.78,313.63 349.81,306.71 345.2,294.73 333.19,304.9" fill="#f3c7cb" stroke="#2a2a2a" stroke-width="0.6" stroke-linejoin="round"/>
<polygon points="325.6,321.05 337.78,313.63 333.19,304.9 321.16,316.02" fill="#f9e8ea" stroke="#2a2a2a" stroke-width="0.6" stroke-linejoin="round"/>
<polygon points="342.42,321.78 354.46,317.44 349.81,306.71 337.78,313.63" fill="#ffffff" stroke="#2a2a2a" stroke-width="0.6" stroke-linejoin="round"/>
<polygon points="330.14,326.2 342.42,321.78 337.78,313.63 325.6,321.05" fill="#ffffff" stroke="#2a2a2a" stroke-width="0.6" stroke-linejoin="round"/>
<line x1="270.29" y1="220.69" x2="326.71" y2="278.58" stroke="#3a3a3a" stroke-width="0.7"/>
<line x1="326.71" y1="278.58" x2="435.77" y2="243.64" stroke="#3a3a3a" stroke-width="0.7"/>
<line x1="328.47" y1="378.47" x2="326.71" y2="278.58" stroke="#3a3a3a" stroke-width="0.7"/>
<line x1="277.77" y1="314.16" x2="270.29" y2="220.69" stroke="#3a3a3a" stroke-width="0.7"/>
<line x1="425.29" y1="339.56" x2="435.77" y2="243.64" stroke="#3a3a3a" stroke-width="0.7"/>
<line x1="328.47" y1="378.47" x2="277.77" y2="314.16" stroke="#3a3a3a" stroke-width="0.7"/>
<line x1="328.47" y1="378.47" x2="425.29" y2="339.56" stroke="#3a3a3a" stroke-width="0.7"/>
<line x1="264.89" y1="220.69" x2="270.29" y2="220.69" stroke="#3a3a3a" stroke-width="0.8"/>
<text x="258.69" y="222.24" font-size="8.6" fill="#222" text-anchor="middle" stroke="#222" stroke-width="0.25">40</text>
<line x1="265.92" y1="233.56" x2="271.32" y2="233.56" stroke="#3a3a3a" stroke-width="0.8"/>
<text x="259.1" y="234.96" font-size="8.6" fill="#222" text-anchor="middle" stroke="#222" stroke-width="0.25">30</text>
<line x1="266.92" y1="246.06" x2="272.32" y2="246.06" stroke="#3a3a3a" stroke-width="0.8"/>
<text x="259.47" y="247.31" font-size="8.6" fill="#222" text-anchor="middle" stroke="#222" stroke-width="0.25">20</text>
<line x1="267.89" y1="258.21" x2="273.29" y2="258.21" stroke="#3a3a3a" stroke-width="0.8"/>
<text x="259.82" y="259.31" font-size="8.6" fill="#222" text-anchor="middle" stroke="#222" stroke-width="0.25">10</text>
<line x1="268.84" y1="270.02" x2="274.24" y2="270.02" stroke="#3a3a3a" stroke-width="0.8"/>
<text x="260.14" y="270.97" font-size="8.6" fill="#222" text-anchor="middle" stroke="#222" stroke-width="0.25">0</text>
<line x1="269.76" y1="281.51" x2="275.16" y2="281.51" stroke="#3a3a3a" stroke-width="0.8"/>
<text x="260.43" y="282.31" font-size="8.6" fill="#222" text-anchor="middle" stroke="#222" stroke-width="0.25">-10</text>
<line x1="270.65" y1="292.69" x2="276.05" y2="292.69" stroke="#3a3a3a" stroke-width="0.8"/>
<text x="260.7" y="293.34" font-size="8.6" fill="#222" text-anchor="middle" stroke="#222" stroke-width="0.25">-20</text>
<line x1="271.53" y1="303.56" x2="276.93" y2="303.56" stroke="#3a3a3a" stroke-width="0.8"/>
<text x="260.95" y="304.06" font-size="8.6" fill="#222" text-anchor="middle" stroke="#222" stroke-width="0.25">-30</text>
<line x1="272.37" y1="314.16" x2="277.77" y2="314.16" stroke="#3a3a3a" stroke-width="0.8"/>
<text x="261.17" y="314.51" font-size="8.6" fill="#222" text-anchor="middle" stroke="#222" stroke-width="0.25">-40</text>
<text x="244.7" y="269.4" font-size="11" fill="#1a1a1a" text-anchor="middle" textLength="37.5" lengthAdjust="spacingAndGlyphs" transform="rotate(-90 244.7 269.4)" stroke="#1a1a1a" stroke-width="0.25">δ-score</text>
<line x1="325.6" y1="374.82" x2="322.6" y2="378.22" stroke="#3a3a3a" stroke-width="0.8"/>
<text x="319.2" y="387.92" font-size="8.8" fill="#222" text-anchor="middle" stroke="#222" stroke-width="0.25">0</text>
<line x1="309.15" y1="353.96" x2="306.15" y2="357.36" stroke="#3a3a3a" stroke-width="0.8"/>
<text x="302.75" y="367.06" font-size="8.8" fill="#222" text-anchor="middle" stroke="#222" stroke-width="0.25">300</text>
<line x1="294.01" y1="334.75" x2="291.01" y2="338.15" stroke="#3a3a3a" stroke-width="0.8"/>
<text x="287.61" y="347.85" font-size="8.8" fill="#222" text-anchor="middle" stroke="#222" stroke-width="0.25">600</text>
<line x1="280" y1="316.99" x2="277" y2="320.39" stroke="#3a3a3a" stroke-width="0.8"/>
<text x="272.4" y="330.09" font-size="8.8" fill="#222" text-anchor="middle" stroke="#222" stroke-width="0.25">1200</text>
<line x1="333.7" y1="376.37" x2="334.9" y2="379.77" stroke="#3a3a3a" stroke-width="0.8"/>
<text x="337.3" y="390.87" font-size="8.8" fill="#222" text-anchor="middle" stroke="#222" stroke-width="0.25">0</text>
<line x1="378.86" y1="358.22" x2="380.06" y2="361.62" stroke="#3a3a3a" stroke-width="0.8"/>
<text x="381.76" y="372.72" font-size="8.8" fill="#222" text-anchor="middle" stroke="#222" stroke-width="0.25">2</text>
<line x1="420.81" y1="341.36" x2="422.01" y2="344.76" stroke="#3a3a3a" stroke-width="0.8"/>
<text x="423.01" y="355.86" font-size="8.8" fill="#222" text-anchor="middle" stroke="#222" stroke-width="0.25">4</text>
<text x="254.45" y="350.4" font-size="9.4" fill="#222" textLength="45.5" lengthAdjust="spacingAndGlyphs" transform="rotate(52 254.45 350.4)" stroke="#222" stroke-width="0.25">Berzosertib</text>
<text x="254" y="364.4" font-size="9.4" fill="#222" transform="rotate(52 254 364.4)" stroke="#222" stroke-width="0.25">in nM</text>
<text x="378.8" y="391.8" font-size="9.4" fill="#222" textLength="41.5" lengthAdjust="spacingAndGlyphs" transform="rotate(-21.5 378.8 391.8)" stroke="#222" stroke-width="0.25">Irradiation</text>
<text x="391.2" y="395.8" font-size="9.4" fill="#222" textLength="23.3" lengthAdjust="spacingAndGlyphs" transform="rotate(-21.5 391.2 395.8)" stroke="#222" stroke-width="0.25">in Gy</text>
<text x="303.3" y="408.5" font-size="11.2" fill="#1a1a1a" font-weight="bold" textLength="90.8" lengthAdjust="spacingAndGlyphs" stroke="#1a1a1a" stroke-width="0.12">Bliss-score: 29.6</text>
<rect x="247.9" y="419.4" width="11.25" height="12.2" fill="#ffffff"/>
<rect x="258.75" y="419.4" width="12.8" height="12.2" fill="#f9e8ea"/>
<rect x="271.15" y="419.4" width="12.8" height="12.2" fill="#f6d8db"/>
<rect x="283.55" y="419.4" width="12.8" height="12.2" fill="#f3c7cb"/>
<rect x="295.95" y="419.4" width="12.8" height="12.2" fill="#f1b7bb"/>
<rect x="308.35" y="419.4" width="12.8" height="12.2" fill="#efa7ac"/>
<rect x="320.75" y="419.4" width="12.8" height="12.2" fill="#ee989d"/>
<rect x="333.15" y="419.4" width="12.8" height="12.2" fill="#ee898e"/>
<rect x="345.55" y="419.4" width="12.8" height="12.2" fill="#ef7a7f"/>
<rect x="357.95" y="419.4" width="12.8" height="12.2" fill="#f06b6f"/>
<rect x="370.35" y="419.4" width="12.8" height="12.2" fill="#f25c5f"/>
<rect x="382.75" y="419.4" width="12.8" height="12.2" fill="#f44d4f"/>
<rect x="395.15" y="419.4" width="12.8" height="12.2" fill="#f73e3f"/>
<rect x="407.55" y="419.4" width="12.8" height="12.2" fill="#fa302c"/>
<rect x="419.95" y="419.4" width="12.8" height="12.2" fill="#fc2420"/>
<rect x="432.35" y="419.4" width="12.45" height="12.2" fill="#ff1a0c"/>
<rect x="247.4" y="418.7" width="198.5" height="13.6" fill="none" stroke="#a9b9e0" stroke-width="1.1"/>
<text x="253.7" y="443" font-size="8.8" fill="#222" text-anchor="middle" stroke="#222" stroke-width="0.25">0</text>
<text x="317.1" y="443" font-size="8.8" fill="#222" text-anchor="middle" stroke="#222" stroke-width="0.25">10</text>
<text x="380.5" y="443" font-size="8.8" fill="#222" text-anchor="middle" stroke="#222" stroke-width="0.25">20</text>
<text x="443.9" y="443" font-size="8.8" fill="#222" text-anchor="middle" stroke="#222" stroke-width="0.25">30</text>
<line x1="587.01" y1="284.5" x2="497.97" y2="314.41" stroke="#3a3a3a" stroke-width="0.75" stroke-dasharray="1.6,1.6"/>
<line x1="587.01" y1="284.5" x2="645.49" y2="339.81" stroke="#3a3a3a" stroke-width="0.75" stroke-dasharray="1.6,1.6"/>
<line x1="587.01" y1="284.5" x2="589.78" y2="194.97" stroke="#3a3a3a" stroke-width="0.75" stroke-dasharray="1.6,1.6"/>
<line x1="490.49" y1="220.94" x2="589.78" y2="194.97" stroke="#3a3a3a" stroke-width="0.7"/>
<line x1="589.78" y1="194.97" x2="655.97" y2="243.89" stroke="#3a3a3a" stroke-width="0.7"/>
<polygon points="581.02,241.9 591.21,238.06 586.79,241.89 576.76,245.17" fill="#f6d8db" stroke="#2a2a2a" stroke-width="0.6" stroke-linejoin="round"/>
<polygon points="570.67,245.79 581.02,241.9 576.76,245.17 566.56,248.51" fill="#f6d8db" stroke="#2a2a2a" stroke-width="0.6" stroke-linejoin="round"/>
<polygon points="585.44,238.5 595.8,234.09 591.21,238.06 581.02,241.9" fill="#efa7ac" stroke="#2a2a2a" stroke-width="0.6" stroke-linejoin="round"/>
<polygon points="560.17,249.8 570.67,245.79 566.56,248.51 556.2,251.91" fill="#f6d8db" stroke="#2a2a2a" stroke-width="0.6" stroke-linejoin="round"/>
<polygon points="549.5,253.86 560.17,249.8 556.2,251.91 545.66,255.37" fill="#f6d8db" stroke="#2a2a2a" stroke-width="0.6" stroke-linejoin="round"/>
<polygon points="574.93,242.98 585.44,238.5 581.02,241.9 570.67,245.79" fill="#efa7ac" stroke="#2a2a2a" stroke-width="0.6" stroke-linejoin="round"/>
<polygon points="538.68,258.71 549.5,253.86 545.66,255.37 534.96,259.14" fill="#f9e8ea" stroke="#2a2a2a" stroke-width="0.6" stroke-linejoin="round"/>
<polygon points="589.94,237.16 600.45,232.31 595.8,234.09 585.44,238.5" fill="#ee898e" stroke="#2a2a2a" stroke-width="0.6" stroke-linejoin="round"/>
<polygon points="564.27,247.61 574.93,242.98 570.67,245.79 560.17,249.8" fill="#f1b7bb" stroke="#2a2a2a" stroke-width="0.6" stroke-linejoin="round"/>
<polygon points="527.71,263.62 538.68,258.71 534.96,259.14 524.09,262.96" fill="#f9e8ea" stroke="#2a2a2a" stroke-width="0.6" stroke-linejoin="round"/>
<polygon points="553.46,252.3 564.27,247.61 560.17,249.8 549.5,253.86" fill="#f1b7bb" stroke="#2a2a2a" stroke-width="0.6" stroke-linejoin="round"/>
<polygon points="579.29,242.08 589.94,237.16 585.44,238.5 574.93,242.98" fill="#ee898e" stroke="#2a2a2a" stroke-width="0.6" stroke-linejoin="round"/>
<polygon points="516.64,269.53 527.71,263.62 524.09,262.96 513.05,267.16" fill="#ffffff" stroke="#2a2a2a" stroke-width="0.6" stroke-linejoin="round"/>
<polygon points="594.59,235.78 605.25,230.47 600.45,232.31 589.94,237.16" fill="#f06b6f" stroke="#2a2a2a" stroke-width="0.6" stroke-linejoin="round"/>
<polygon points="542.51,258.27 553.46,252.3 549.5,253.86 538.68,258.71" fill="#f3c7cb" stroke="#2a2a2a" stroke-width="0.6" stroke-linejoin="round"/>
<polygon points="568.5,247.19 579.29,242.08 574.93,242.98 564.27,247.61" fill="#ee989d" stroke="#2a2a2a" stroke-width="0.6" stroke-linejoin="round"/>
<polygon points="505.44,275.51 516.64,269.53 513.05,267.16 501.84,271.43" fill="#ffffff" stroke="#2a2a2a" stroke-width="0.6" stroke-linejoin="round"/>
<polygon points="531.44,264.3 542.51,258.27 538.68,258.71 527.71,263.62" fill="#f6d8db" stroke="#2a2a2a" stroke-width="0.6" stroke-linejoin="round"/>
<polygon points="583.79,241.16 594.59,235.78 589.94,237.16 579.29,242.08" fill="#f06b6f" stroke="#2a2a2a" stroke-width="0.6" stroke-linejoin="round"/>
<polygon points="557.55,252.36 568.5,247.19 564.27,247.61 553.46,252.3" fill="#ee989d" stroke="#2a2a2a" stroke-width="0.6" stroke-linejoin="round"/>
<polygon points="520.32,271.95 531.44,264.3 527.71,263.62 516.64,269.53" fill="#f9e8ea" stroke="#2a2a2a" stroke-width="0.6" stroke-linejoin="round"/>
<polygon points="599.12,240.55 609.84,235.24 605.25,230.47 594.59,235.78" fill="#f25c5f" stroke="#2a2a2a" stroke-width="0.6" stroke-linejoin="round"/>
<polygon points="509.1,279.67 520.32,271.95 516.64,269.53 505.44,275.51" fill="#ffffff" stroke="#2a2a2a" stroke-width="0.6" stroke-linejoin="round"/>
<polygon points="546.49,259.15 557.55,252.36 553.46,252.3 542.51,258.27" fill="#efa7ac" stroke="#2a2a2a" stroke-width="0.6" stroke-linejoin="round"/>
<polygon points="572.85,246.75 583.79,241.16 579.29,242.08 568.5,247.19" fill="#ef7a7f" stroke="#2a2a2a" stroke-width="0.6" stroke-linejoin="round"/>
<polygon points="535.31,266.01 546.49,259.15 542.51,258.27 531.44,264.3" fill="#f1b7bb" stroke="#2a2a2a" stroke-width="0.6" stroke-linejoin="round"/>
<polygon points="588.26,245.93 599.12,240.55 594.59,235.78 583.79,241.16" fill="#f06b6f" stroke="#2a2a2a" stroke-width="0.6" stroke-linejoin="round"/>
<polygon points="603.73,245.41 614.51,240.09 609.84,235.24 599.12,240.55" fill="#f25c5f" stroke="#2a2a2a" stroke-width="0.6" stroke-linejoin="round"/>
<polygon points="561.77,252.41 572.85,246.75 568.5,247.19 557.55,252.36" fill="#ee898e" stroke="#2a2a2a" stroke-width="0.6" stroke-linejoin="round"/>
<polygon points="524.11,274.94 535.31,266.01 531.44,264.3 520.32,271.95" fill="#f6d8db" stroke="#2a2a2a" stroke-width="0.6" stroke-linejoin="round"/>
<polygon points="512.85,283.91 524.11,274.94 520.32,271.95 509.1,279.67" fill="#ffffff" stroke="#2a2a2a" stroke-width="0.6" stroke-linejoin="round"/>
<polygon points="577.25,251.52 588.26,245.93 583.79,241.16 572.85,246.75" fill="#f06b6f" stroke="#2a2a2a" stroke-width="0.6" stroke-linejoin="round"/>
<polygon points="550.57,260.06 561.77,252.41 557.55,252.36 546.49,259.15" fill="#ee989d" stroke="#2a2a2a" stroke-width="0.6" stroke-linejoin="round"/>
<polygon points="592.8,250.79 603.73,245.41 599.12,240.55 588.26,245.93" fill="#f06b6f" stroke="#2a2a2a" stroke-width="0.6" stroke-linejoin="round"/>
<polygon points="608.53,248.54 619.4,243.09 614.51,240.09 603.73,245.41" fill="#f25c5f" stroke="#2a2a2a" stroke-width="0.6" stroke-linejoin="round"/>
<polygon points="539.28,267.77 550.57,260.06 546.49,259.15 535.31,266.01" fill="#efa7ac" stroke="#2a2a2a" stroke-width="0.6" stroke-linejoin="round"/>
<polygon points="566.09,257.18 577.25,251.52 572.85,246.75 561.77,252.41" fill="#ef7a7f" stroke="#2a2a2a" stroke-width="0.6" stroke-linejoin="round"/>
<polygon points="527.99,278 539.28,267.77 535.31,266.01 524.11,274.94" fill="#f3c7cb" stroke="#2a2a2a" stroke-width="0.6" stroke-linejoin="round"/>
<polygon points="581.72,256.38 592.8,250.79 588.26,245.93 577.25,251.52" fill="#ef7a7f" stroke="#2a2a2a" stroke-width="0.6" stroke-linejoin="round"/>
<polygon points="516.67,288.25 527.99,278 524.11,274.94 512.85,283.91" fill="#f9e8ea" stroke="#2a2a2a" stroke-width="0.6" stroke-linejoin="round"/>
<polygon points="597.51,254.07 608.53,248.54 603.73,245.41 592.8,250.79" fill="#f06b6f" stroke="#2a2a2a" stroke-width="0.6" stroke-linejoin="round"/>
<polygon points="554.8,264.78 566.09,257.18 561.77,252.41 550.57,260.06" fill="#ee898e" stroke="#2a2a2a" stroke-width="0.6" stroke-linejoin="round"/>
<polygon points="613.43,251.75 624.4,246.15 619.4,243.09 608.53,248.54" fill="#f25c5f" stroke="#2a2a2a" stroke-width="0.6" stroke-linejoin="round"/>
<polygon points="570.49,262.05 581.72,256.38 577.25,251.52 566.09,257.18" fill="#ee898e" stroke="#2a2a2a" stroke-width="0.6" stroke-linejoin="round"/>
<polygon points="543.41,272.44 554.8,264.78 550.57,260.06 539.28,267.77" fill="#efa7ac" stroke="#2a2a2a" stroke-width="0.6" stroke-linejoin="round"/>
<polygon points="586.33,259.81 597.51,254.07 592.8,250.79 581.72,256.38" fill="#ef7a7f" stroke="#2a2a2a" stroke-width="0.6" stroke-linejoin="round"/>
<polygon points="532.01,282.54 543.41,272.44 539.28,267.77 527.99,278" fill="#f3c7cb" stroke="#2a2a2a" stroke-width="0.6" stroke-linejoin="round"/>
<polygon points="520.57,292.67 532.01,282.54 527.99,278 516.67,288.25" fill="#f9e8ea" stroke="#2a2a2a" stroke-width="0.6" stroke-linejoin="round"/>
<polygon points="617.95,262.51 628.88,257.33 624.4,246.15 613.43,251.75" fill="#f06b6f" stroke="#2a2a2a" stroke-width="0.6" stroke-linejoin="round"/>
<polygon points="602.32,257.43 613.43,251.75 608.53,248.54 597.51,254.07" fill="#f06b6f" stroke="#2a2a2a" stroke-width="0.6" stroke-linejoin="round"/>
<polygon points="622.4,274.72 633.25,270.04 628.88,257.33 617.95,262.51" fill="#ee989d" stroke="#2a2a2a" stroke-width="0.6" stroke-linejoin="round"/>
<polygon points="559.12,269.59 570.49,262.05 566.09,257.18 554.8,264.78" fill="#ee989d" stroke="#2a2a2a" stroke-width="0.6" stroke-linejoin="round"/>
<polygon points="626.84,287.08 637.61,282.9 633.25,270.04 622.4,274.72" fill="#f3c7cb" stroke="#2a2a2a" stroke-width="0.6" stroke-linejoin="round"/>
<polygon points="631.48,297.24 642.2,293.38 637.61,282.9 626.84,287.08" fill="#f9e8ea" stroke="#2a2a2a" stroke-width="0.6" stroke-linejoin="round"/>
<polygon points="575,265.63 586.33,259.81 581.72,256.38 570.49,262.05" fill="#ee898e" stroke="#2a2a2a" stroke-width="0.6" stroke-linejoin="round"/>
<polygon points="547.63,277.2 559.12,269.59 554.8,264.78 543.41,272.44" fill="#efa7ac" stroke="#2a2a2a" stroke-width="0.6" stroke-linejoin="round"/>
<polygon points="606.86,267.77 617.95,262.51 613.43,251.75 602.32,257.43" fill="#ef7a7f" stroke="#2a2a2a" stroke-width="0.6" stroke-linejoin="round"/>
<polygon points="536.11,287.18 547.63,277.2 543.41,272.44 532.01,282.54" fill="#f3c7cb" stroke="#2a2a2a" stroke-width="0.6" stroke-linejoin="round"/>
<polygon points="591.04,263.32 602.32,257.43 597.51,254.07 586.33,259.81" fill="#f06b6f" stroke="#2a2a2a" stroke-width="0.6" stroke-linejoin="round"/>
<polygon points="524.55,297.19 536.11,287.18 532.01,282.54 520.57,292.67" fill="#f9e8ea" stroke="#2a2a2a" stroke-width="0.6" stroke-linejoin="round"/>
<polygon points="611.36,279.47 622.4,274.72 617.95,262.51 606.86,267.77" fill="#ee989d" stroke="#2a2a2a" stroke-width="0.6" stroke-linejoin="round"/>
<polygon points="615.87,291.34 626.84,287.08 622.4,274.72 611.36,279.47" fill="#f3c7cb" stroke="#2a2a2a" stroke-width="0.6" stroke-linejoin="round"/>
<polygon points="563.52,273.39 575,265.63 570.49,262.05 559.12,269.59" fill="#ee989d" stroke="#2a2a2a" stroke-width="0.6" stroke-linejoin="round"/>
<polygon points="620.55,301.18 631.48,297.24 626.84,287.08 615.87,291.34" fill="#f9e8ea" stroke="#2a2a2a" stroke-width="0.6" stroke-linejoin="round"/>
<polygon points="595.6,273.22 606.86,267.77 602.32,257.43 591.04,263.32" fill="#ef7a7f" stroke="#2a2a2a" stroke-width="0.6" stroke-linejoin="round"/>
<polygon points="551.93,281.22 563.52,273.39 559.12,269.59 547.63,277.2" fill="#efa7ac" stroke="#2a2a2a" stroke-width="0.6" stroke-linejoin="round"/>
<polygon points="579.62,269.3 591.04,263.32 586.33,259.81 575,265.63" fill="#ef7a7f" stroke="#2a2a2a" stroke-width="0.6" stroke-linejoin="round"/>
<polygon points="540.29,291.5 551.93,281.22 547.63,277.2 536.11,287.18" fill="#f3c7cb" stroke="#2a2a2a" stroke-width="0.6" stroke-linejoin="round"/>
<polygon points="600.15,284.38 611.36,279.47 606.86,267.77 595.6,273.22" fill="#efa7ac" stroke="#2a2a2a" stroke-width="0.6" stroke-linejoin="round"/>
<polygon points="528.62,301.81 540.29,291.5 536.11,287.18 524.55,297.19" fill="#f9e8ea" stroke="#2a2a2a" stroke-width="0.6" stroke-linejoin="round"/>
<polygon points="604.71,295.7 615.87,291.34 611.36,279.47 600.15,284.38" fill="#f3c7cb" stroke="#2a2a2a" stroke-width="0.6" stroke-linejoin="round"/>
<polygon points="568.02,277.28 579.62,269.3 575,265.63 563.52,273.39" fill="#ee898e" stroke="#2a2a2a" stroke-width="0.6" stroke-linejoin="round"/>
<polygon points="609.41,305.19 620.55,301.18 615.87,291.34 604.71,295.7" fill="#ffffff" stroke="#2a2a2a" stroke-width="0.6" stroke-linejoin="round"/>
<polygon points="584.18,278.75 595.6,273.22 591.04,263.32 579.62,269.3" fill="#ee898e" stroke="#2a2a2a" stroke-width="0.6" stroke-linejoin="round"/>
<polygon points="556.32,285.33 568.02,277.28 563.52,273.39 551.93,281.22" fill="#efa7ac" stroke="#2a2a2a" stroke-width="0.6" stroke-linejoin="round"/>
<polygon points="588.75,289.36 600.15,284.38 595.6,273.22 584.18,278.75" fill="#efa7ac" stroke="#2a2a2a" stroke-width="0.6" stroke-linejoin="round"/>
<polygon points="544.56,295.91 556.32,285.33 551.93,281.22 540.29,291.5" fill="#f3c7cb" stroke="#2a2a2a" stroke-width="0.6" stroke-linejoin="round"/>
<polygon points="593.34,300.15 604.71,295.7 600.15,284.38 588.75,289.36" fill="#f6d8db" stroke="#2a2a2a" stroke-width="0.6" stroke-linejoin="round"/>
<polygon points="532.77,306.52 544.56,295.91 540.29,291.5 528.62,301.81" fill="#f9e8ea" stroke="#2a2a2a" stroke-width="0.6" stroke-linejoin="round"/>
<polygon points="572.56,285.83 584.18,278.75 579.62,269.3 568.02,277.28" fill="#ee989d" stroke="#2a2a2a" stroke-width="0.6" stroke-linejoin="round"/>
<polygon points="598.05,309.27 609.41,305.19 604.71,295.7 593.34,300.15" fill="#ffffff" stroke="#2a2a2a" stroke-width="0.6" stroke-linejoin="round"/>
<polygon points="577.14,295.35 588.75,289.36 584.18,278.75 572.56,285.83" fill="#f1b7bb" stroke="#2a2a2a" stroke-width="0.6" stroke-linejoin="round"/>
<polygon points="560.81,293 572.56,285.83 568.02,277.28 556.32,285.33" fill="#f1b7bb" stroke="#2a2a2a" stroke-width="0.6" stroke-linejoin="round"/>
<polygon points="581.76,305.05 593.34,300.15 588.75,289.36 577.14,295.35" fill="#f6d8db" stroke="#2a2a2a" stroke-width="0.6" stroke-linejoin="round"/>
<polygon points="548.96,302.14 560.81,293 556.32,285.33 544.56,295.91" fill="#f3c7cb" stroke="#2a2a2a" stroke-width="0.6" stroke-linejoin="round"/>
<polygon points="537.02,311.34 548.96,302.14 544.56,295.91 532.77,306.52" fill="#f9e8ea" stroke="#2a2a2a" stroke-width="0.6" stroke-linejoin="round"/>
<polygon points="565.37,301.44 577.14,295.35 572.56,285.83 560.81,293" fill="#f3c7cb" stroke="#2a2a2a" stroke-width="0.6" stroke-linejoin="round"/>
<polygon points="586.47,313.44 598.05,309.27 593.34,300.15 581.76,305.05" fill="#ffffff" stroke="#2a2a2a" stroke-width="0.6" stroke-linejoin="round"/>
<polygon points="553.43,308.81 565.37,301.44 560.81,293 548.96,302.14" fill="#f6d8db" stroke="#2a2a2a" stroke-width="0.6" stroke-linejoin="round"/>
<polygon points="569.98,310.05 581.76,305.05 577.14,295.35 565.37,301.44" fill="#f9e8ea" stroke="#2a2a2a" stroke-width="0.6" stroke-linejoin="round"/>
<polygon points="541.36,316.27 553.43,308.81 548.96,302.14 537.02,311.34" fill="#ffffff" stroke="#2a2a2a" stroke-width="0.6" stroke-linejoin="round"/>
<polygon points="574.66,317.69 586.47,313.44 581.76,305.05 569.98,310.05" fill="#ffffff" stroke="#2a2a2a" stroke-width="0.6" stroke-linejoin="round"/>
<polygon points="557.99,315.63 569.98,310.05 565.37,301.44 553.43,308.81" fill="#f9e8ea" stroke="#2a2a2a" stroke-width="0.6" stroke-linejoin="round"/>
<polygon points="545.8,321.3 557.99,315.63 553.43,308.81 541.36,316.27" fill="#ffffff" stroke="#2a2a2a" stroke-width="0.6" stroke-linejoin="round"/>
<polygon points="562.62,322.03 574.66,317.69 569.98,310.05 557.99,315.63" fill="#ffffff" stroke="#2a2a2a" stroke-width="0.6" stroke-linejoin="round"/>
<polygon points="550.34,326.45 562.62,322.03 557.99,315.63 545.8,321.3" fill="#ffffff" stroke="#2a2a2a" stroke-width="0.6" stroke-linejoin="round"/>
<line x1="490.49" y1="220.94" x2="546.91" y2="278.83" stroke="#3a3a3a" stroke-width="0.7"/>
<line x1="546.91" y1="278.83" x2="655.97" y2="243.89" stroke="#3a3a3a" stroke-width="0.7"/>
<line x1="548.67" y1="378.72" x2="546.91" y2="278.83" stroke="#3a3a3a" stroke-width="0.7"/>
<line x1="497.97" y1="314.41" x2="490.49" y2="220.94" stroke="#3a3a3a" stroke-width="0.7"/>
<line x1="645.49" y1="339.81" x2="655.97" y2="243.89" stroke="#3a3a3a" stroke-width="0.7"/>
<line x1="548.67" y1="378.72" x2="497.97" y2="314.41" stroke="#3a3a3a" stroke-width="0.7"/>
<line x1="548.67" y1="378.72" x2="645.49" y2="339.81" stroke="#3a3a3a" stroke-width="0.7"/>
<line x1="485.09" y1="220.94" x2="490.49" y2="220.94" stroke="#3a3a3a" stroke-width="0.8"/>
<text x="478.49" y="222.49" font-size="8.6" fill="#222" text-anchor="middle" stroke="#222" stroke-width="0.25">30</text>
<line x1="486.46" y1="238.02" x2="491.86" y2="238.02" stroke="#3a3a3a" stroke-width="0.8"/>
<text x="479.77" y="239.37" font-size="8.6" fill="#222" text-anchor="middle" stroke="#222" stroke-width="0.25">20</text>
<line x1="487.77" y1="254.45" x2="493.17" y2="254.45" stroke="#3a3a3a" stroke-width="0.8"/>
<text x="481.01" y="255.6" font-size="8.6" fill="#222" text-anchor="middle" stroke="#222" stroke-width="0.25">10</text>
<line x1="489.04" y1="270.27" x2="494.44" y2="270.27" stroke="#3a3a3a" stroke-width="0.8"/>
<text x="482.19" y="271.22" font-size="8.6" fill="#222" text-anchor="middle" stroke="#222" stroke-width="0.25">0</text>
<line x1="490.26" y1="285.52" x2="495.66" y2="285.52" stroke="#3a3a3a" stroke-width="0.8"/>
<text x="483.33" y="286.27" font-size="8.6" fill="#222" text-anchor="middle" stroke="#222" stroke-width="0.25">-10</text>
<line x1="491.44" y1="300.22" x2="496.84" y2="300.22" stroke="#3a3a3a" stroke-width="0.8"/>
<text x="484.42" y="300.77" font-size="8.6" fill="#222" text-anchor="middle" stroke="#222" stroke-width="0.25">-20</text>
<line x1="492.57" y1="314.41" x2="497.97" y2="314.41" stroke="#3a3a3a" stroke-width="0.8"/>
<text x="485.47" y="314.76" font-size="8.6" fill="#222" text-anchor="middle" stroke="#222" stroke-width="0.25">-30</text>
<text x="467.9" y="269" font-size="11" fill="#1a1a1a" text-anchor="middle" textLength="37.5" lengthAdjust="spacingAndGlyphs" transform="rotate(-90 467.9 269)" stroke="#1a1a1a" stroke-width="0.25">δ-score</text>
<line x1="545.8" y1="375.07" x2="542.8" y2="378.47" stroke="#3a3a3a" stroke-width="0.8"/>
<text x="539.4" y="388.17" font-size="8.8" fill="#222" text-anchor="middle" stroke="#222" stroke-width="0.25">0</text>
<line x1="529.35" y1="354.21" x2="526.35" y2="357.61" stroke="#3a3a3a" stroke-width="0.8"/>
<text x="522.95" y="367.31" font-size="8.8" fill="#222" text-anchor="middle" stroke="#222" stroke-width="0.25">300</text>
<line x1="514.21" y1="335" x2="511.21" y2="338.4" stroke="#3a3a3a" stroke-width="0.8"/>
<text x="507.81" y="348.1" font-size="8.8" fill="#222" text-anchor="middle" stroke="#222" stroke-width="0.25">600</text>
<line x1="500.2" y1="317.24" x2="497.2" y2="320.64" stroke="#3a3a3a" stroke-width="0.8"/>
<text x="492.6" y="330.34" font-size="8.8" fill="#222" text-anchor="middle" stroke="#222" stroke-width="0.25">1200</text>
<line x1="553.9" y1="376.62" x2="555.1" y2="380.02" stroke="#3a3a3a" stroke-width="0.8"/>
<text x="557.5" y="391.12" font-size="8.8" fill="#222" text-anchor="middle" stroke="#222" stroke-width="0.25">0</text>
<line x1="599.06" y1="358.47" x2="600.26" y2="361.87" stroke="#3a3a3a" stroke-width="0.8"/>
<text x="601.96" y="372.97" font-size="8.8" fill="#222" text-anchor="middle" stroke="#222" stroke-width="0.25">2</text>
<line x1="641.01" y1="341.61" x2="642.21" y2="345.01" stroke="#3a3a3a" stroke-width="0.8"/>
<text x="643.21" y="356.11" font-size="8.8" fill="#222" text-anchor="middle" stroke="#222" stroke-width="0.25">4</text>
<text x="479.65" y="350.65" font-size="9.4" fill="#222" textLength="45.5" lengthAdjust="spacingAndGlyphs" transform="rotate(52 479.65 350.65)" stroke="#222" stroke-width="0.25">Berzosertib</text>
<text x="477.2" y="364.65" font-size="9.4" fill="#222" transform="rotate(52 477.2 364.65)" stroke="#222" stroke-width="0.25">in nM</text>
<text x="602.5" y="390.55" font-size="9.4" fill="#222" textLength="41.5" lengthAdjust="spacingAndGlyphs" transform="rotate(-21.5 602.5 390.55)" stroke="#222" stroke-width="0.25">Irradiation</text>
<text x="614.02" y="395" font-size="9.4" fill="#222" textLength="23.3" lengthAdjust="spacingAndGlyphs" transform="rotate(-21.5 614.02 395)" stroke="#222" stroke-width="0.25">in Gy</text>
<text x="530.6" y="411.7" font-size="11.2" fill="#1a1a1a" font-weight="bold" textLength="90.4" lengthAdjust="spacingAndGlyphs" stroke="#1a1a1a" stroke-width="0.12">Bliss-score: 10.1</text>
<rect x="477.2" y="420.9" width="11.25" height="12.1" fill="#ffffff"/>
<rect x="488.05" y="420.9" width="12.8" height="12.1" fill="#f9e8ea"/>
<rect x="500.45" y="420.9" width="12.8" height="12.1" fill="#f6d8db"/>
<rect x="512.85" y="420.9" width="12.8" height="12.1" fill="#f3c7cb"/>
<rect x="525.25" y="420.9" width="12.8" height="12.1" fill="#f1b7bb"/>
<rect x="537.65" y="420.9" width="12.8" height="12.1" fill="#efa7ac"/>
<rect x="550.05" y="420.9" width="12.8" height="12.1" fill="#ee989d"/>
<rect x="562.45" y="420.9" width="12.8" height="12.1" fill="#ee898e"/>
<rect x="574.85" y="420.9" width="12.8" height="12.1" fill="#ef7a7f"/>
<rect x="587.25" y="420.9" width="12.8" height="12.1" fill="#f06b6f"/>
<rect x="599.65" y="420.9" width="12.8" height="12.1" fill="#f25c5f"/>
<rect x="612.05" y="420.9" width="12.8" height="12.1" fill="#f44d4f"/>
<rect x="624.45" y="420.9" width="12.8" height="12.1" fill="#f73e3f"/>
<rect x="636.85" y="420.9" width="12.8" height="12.1" fill="#fa302c"/>
<rect x="649.25" y="420.9" width="12.8" height="12.1" fill="#fc2420"/>
<rect x="661.65" y="420.9" width="13.75" height="12.1" fill="#ff1a0c"/>
<rect x="476.7" y="420.2" width="199.8" height="13.5" fill="none" stroke="#a9b9e0" stroke-width="1.1"/>
<text x="483" y="443.6" font-size="8.8" fill="#222" text-anchor="middle" stroke="#222" stroke-width="0.25">0</text>
<text x="546.83" y="443.6" font-size="8.8" fill="#222" text-anchor="middle" stroke="#222" stroke-width="0.25">10</text>
<text x="610.67" y="443.6" font-size="8.8" fill="#222" text-anchor="middle" stroke="#222" stroke-width="0.25">20</text>
<text x="674.5" y="443.6" font-size="8.8" fill="#222" text-anchor="middle" stroke="#222" stroke-width="0.25">30</text>
<defs>
<pattern id="chkR" width="4" height="4" patternUnits="userSpaceOnUse"><rect width="4" height="4" fill="#ff1e0a"/><rect x="0.2" y="0.2" width="1.6" height="1.6" fill="#f4f8fb"/><rect x="2.2" y="2.2" width="1.6" height="1.6" fill="#f4f8fb"/></pattern>
<pattern id="chkB" width="4" height="4" patternUnits="userSpaceOnUse"><rect width="4" height="4" fill="#0a0aff"/><rect x="0.2" y="0.2" width="1.6" height="1.6" fill="#f4f8fb"/><rect x="2.2" y="2.2" width="1.6" height="1.6" fill="#f4f8fb"/></pattern>
<pattern id="chkG" width="4" height="4" patternUnits="userSpaceOnUse"><rect width="4" height="4" fill="#338c1f"/><rect x="0.2" y="0.2" width="1.6" height="1.6" fill="#f4f8fb"/><rect x="2.2" y="2.2" width="1.6" height="1.6" fill="#f4f8fb"/></pattern>
<pattern id="dotR" width="2" height="4" patternUnits="userSpaceOnUse"><rect width="2" height="4" fill="#f6f6fa"/><rect x="0.1" y="0.1" width="0.9" height="0.9" fill="#f2a0a4"/><rect x="1.1" y="2.1" width="0.9" height="0.9" fill="#f2a0a4"/></pattern>
<pattern id="dotB" width="2" height="4" patternUnits="userSpaceOnUse"><rect width="2" height="4" fill="#f6f6fc"/><rect x="0.1" y="0.1" width="0.9" height="0.9" fill="#a4a4f4"/><rect x="1.1" y="2.1" width="0.9" height="0.9" fill="#a4a4f4"/></pattern>
<pattern id="dotG" width="2" height="4" patternUnits="userSpaceOnUse"><rect width="2" height="4" fill="#f4f7f3"/><rect x="0.1" y="0.1" width="0.9" height="0.9" fill="#a8cca0"/><rect x="1.1" y="2.1" width="0.9" height="0.9" fill="#a8cca0"/></pattern>
</defs>
<line x1="89.65" y1="572.5" x2="89.65" y2="513.4" stroke="#ff1e0a" stroke-width="1.2"/>
<line x1="84.55" y1="513.4" x2="94.75" y2="513.4" stroke="#ff1e0a" stroke-width="1.3"/>
<rect x="80.4" y="573.3" width="18.5" height="97" fill="url(#dotR)"/>
<rect x="80.4" y="573.3" width="18.5" height="97" fill="none" stroke="#ff1e0a" stroke-width="1.6"/>
<line x1="89.65" y1="670.3" x2="89.65" y2="673.5" stroke="#1a1a1a" stroke-width="1.1"/>
<text x="89.65" y="685.3" font-size="10.6" fill="#1a1a1a" text-anchor="middle" font-weight="bold" textLength="21.5" lengthAdjust="spacingAndGlyphs" stroke="#1a1a1a" stroke-width="0.12">0Gy</text>
<line x1="120.85" y1="635.8" x2="120.85" y2="632.7" stroke="#ff1e0a" stroke-width="1.2"/>
<line x1="115.75" y1="632.7" x2="125.95" y2="632.7" stroke="#ff1e0a" stroke-width="1.3"/>
<rect x="111.3" y="636.6" width="19.1" height="33.7" fill="url(#chkR)"/>
<rect x="111.3" y="636.6" width="19.1" height="33.7" fill="none" stroke="#ff1e0a" stroke-width="1.6"/>
<line x1="120.85" y1="670.3" x2="120.85" y2="673.5" stroke="#1a1a1a" stroke-width="1.1"/>
<text x="120.85" y="685.3" font-size="10.6" fill="#1a1a1a" text-anchor="middle" font-weight="bold" textLength="21.5" lengthAdjust="spacingAndGlyphs" stroke="#1a1a1a" stroke-width="0.12">2Gy</text>
<line x1="152" y1="640.7" x2="152" y2="638.1" stroke="#ff1e0a" stroke-width="1.2"/>
<line x1="146.9" y1="638.1" x2="157.1" y2="638.1" stroke="#ff1e0a" stroke-width="1.3"/>
<rect x="141.8" y="640.7" width="20.4" height="29.6" fill="#ff1e0a"/>
<line x1="152" y1="670.3" x2="152" y2="673.5" stroke="#1a1a1a" stroke-width="1.1"/>
<text x="152" y="685.3" font-size="10.6" fill="#1a1a1a" text-anchor="middle" font-weight="bold" textLength="21.5" lengthAdjust="spacingAndGlyphs" stroke="#1a1a1a" stroke-width="0.12">4Gy</text>
<line x1="183.1" y1="581.4" x2="183.1" y2="559.1" stroke="#0a0aff" stroke-width="1.2"/>
<line x1="178" y1="559.1" x2="188.2" y2="559.1" stroke="#0a0aff" stroke-width="1.3"/>
<rect x="174.2" y="582.2" width="17.8" height="88.1" fill="url(#dotB)"/>
<rect x="174.2" y="582.2" width="17.8" height="88.1" fill="none" stroke="#0a0aff" stroke-width="1.6"/>
<line x1="183.1" y1="670.3" x2="183.1" y2="673.5" stroke="#1a1a1a" stroke-width="1.1"/>
<text x="183.1" y="685.3" font-size="10.6" fill="#1a1a1a" text-anchor="middle" font-weight="bold" textLength="21.5" lengthAdjust="spacingAndGlyphs" stroke="#1a1a1a" stroke-width="0.12">0Gy</text>
<line x1="214.25" y1="633.5" x2="214.25" y2="630.1" stroke="#0a0aff" stroke-width="1.2"/>
<line x1="209.15" y1="630.1" x2="219.35" y2="630.1" stroke="#0a0aff" stroke-width="1.3"/>
<rect x="205" y="634.3" width="18.5" height="36" fill="url(#chkB)"/>
<rect x="205" y="634.3" width="18.5" height="36" fill="none" stroke="#0a0aff" stroke-width="1.6"/>
<line x1="214.25" y1="670.3" x2="214.25" y2="673.5" stroke="#1a1a1a" stroke-width="1.1"/>
<text x="214.25" y="685.3" font-size="10.6" fill="#1a1a1a" text-anchor="middle" font-weight="bold" textLength="21.5" lengthAdjust="spacingAndGlyphs" stroke="#1a1a1a" stroke-width="0.12">2Gy</text>
<line x1="245.75" y1="638.5" x2="245.75" y2="636.2" stroke="#0a0aff" stroke-width="1.2"/>
<line x1="240.65" y1="636.2" x2="250.85" y2="636.2" stroke="#0a0aff" stroke-width="1.3"/>
<rect x="235.4" y="638.5" width="20.7" height="31.8" fill="#0a0aff"/>
<line x1="245.75" y1="670.3" x2="245.75" y2="673.5" stroke="#1a1a1a" stroke-width="1.1"/>
<text x="245.75" y="685.3" font-size="10.6" fill="#1a1a1a" text-anchor="middle" font-weight="bold" textLength="21.5" lengthAdjust="spacingAndGlyphs" stroke="#1a1a1a" stroke-width="0.12">4Gy</text>
<line x1="276.55" y1="630.1" x2="276.55" y2="627.5" stroke="#36902a" stroke-width="1.2"/>
<line x1="271.45" y1="627.5" x2="281.65" y2="627.5" stroke="#36902a" stroke-width="1.3"/>
<rect x="267.3" y="630.9" width="18.5" height="39.4" fill="url(#dotG)"/>
<rect x="267.3" y="630.9" width="18.5" height="39.4" fill="none" stroke="#36902a" stroke-width="1.6"/>
<line x1="276.55" y1="670.3" x2="276.55" y2="673.5" stroke="#1a1a1a" stroke-width="1.1"/>
<text x="276.55" y="685.3" font-size="10.6" fill="#1a1a1a" text-anchor="middle" font-weight="bold" textLength="21.5" lengthAdjust="spacingAndGlyphs" stroke="#1a1a1a" stroke-width="0.12">0Gy</text>
<line x1="307.45" y1="640.2" x2="307.45" y2="638.2" stroke="#36902a" stroke-width="1.2"/>
<line x1="302.35" y1="638.2" x2="312.55" y2="638.2" stroke="#36902a" stroke-width="1.3"/>
<rect x="298.2" y="641" width="18.5" height="29.3" fill="url(#chkG)"/>
<rect x="298.2" y="641" width="18.5" height="29.3" fill="none" stroke="#36902a" stroke-width="1.6"/>
<line x1="307.45" y1="670.3" x2="307.45" y2="673.5" stroke="#1a1a1a" stroke-width="1.1"/>
<text x="307.45" y="685.3" font-size="10.6" fill="#1a1a1a" text-anchor="middle" font-weight="bold" textLength="21.5" lengthAdjust="spacingAndGlyphs" stroke="#1a1a1a" stroke-width="0.12">2Gy</text>
<line x1="338.9" y1="646.9" x2="338.9" y2="645.5" stroke="#36902a" stroke-width="1.2"/>
<line x1="333.8" y1="645.5" x2="344" y2="645.5" stroke="#36902a" stroke-width="1.3"/>
<rect x="328.5" y="646.9" width="20.8" height="23.4" fill="#36902a"/>
<line x1="338.9" y1="670.3" x2="338.9" y2="673.5" stroke="#1a1a1a" stroke-width="1.1"/>
<text x="338.9" y="685.3" font-size="10.6" fill="#1a1a1a" text-anchor="middle" font-weight="bold" textLength="21.5" lengthAdjust="spacingAndGlyphs" stroke="#1a1a1a" stroke-width="0.12">4Gy</text>
<line x1="68.9" y1="476" x2="68.9" y2="670.9" stroke="#333" stroke-width="1.1"/>
<line x1="68.4" y1="670.3" x2="364.5" y2="670.3" stroke="#1a1a1a" stroke-width="1.5"/>
<line x1="65.7" y1="670.3" x2="68.9" y2="670.3" stroke="#333" stroke-width="1"/>
<text x="64.9" y="672.8" font-size="7" fill="#1a1a1a" text-anchor="end" font-weight="bold" textLength="3.9" lengthAdjust="spacingAndGlyphs" stroke="#1a1a1a" stroke-width="0.12">0</text>
<line x1="65.7" y1="605.65" x2="68.9" y2="605.65" stroke="#333" stroke-width="1"/>
<text x="64.9" y="608.15" font-size="7" fill="#1a1a1a" text-anchor="end" font-weight="bold" textLength="16.2" lengthAdjust="spacingAndGlyphs" stroke="#1a1a1a" stroke-width="0.12">1000</text>
<line x1="65.7" y1="541" x2="68.9" y2="541" stroke="#333" stroke-width="1"/>
<text x="64.9" y="543.5" font-size="7" fill="#1a1a1a" text-anchor="end" font-weight="bold" textLength="16.2" lengthAdjust="spacingAndGlyphs" stroke="#1a1a1a" stroke-width="0.12">2000</text>
<line x1="65.7" y1="476.35" x2="68.9" y2="476.35" stroke="#333" stroke-width="1"/>
<text x="64.9" y="478.85" font-size="7" fill="#1a1a1a" text-anchor="end" font-weight="bold" textLength="16.2" lengthAdjust="spacingAndGlyphs" stroke="#1a1a1a" stroke-width="0.12">3000</text>
<text x="44" y="574.4" font-size="8.3" fill="#1a1a1a" text-anchor="middle" font-weight="bold" textLength="97.5" lengthAdjust="spacingAndGlyphs" transform="rotate(-90 44 574.4)" stroke="#1a1a1a" stroke-width="0.12">IC50 of Berzosertib in nM</text>
<line x1="75.4" y1="691.5" x2="163.5" y2="691.5" stroke="#1a1a1a" stroke-width="2"/>
<text x="120.8" y="704.5" font-size="11.3" fill="#1a1a1a" text-anchor="middle" font-weight="bold" textLength="62.5" lengthAdjust="spacingAndGlyphs" stroke="#1a1a1a" stroke-width="0.12">SU-DIPG-17</text>
<line x1="170.9" y1="691.5" x2="259.2" y2="691.5" stroke="#1a1a1a" stroke-width="2"/>
<text x="212.5" y="704.5" font-size="11.3" fill="#1a1a1a" text-anchor="middle" font-weight="bold" textLength="62.5" lengthAdjust="spacingAndGlyphs" stroke="#1a1a1a" stroke-width="0.12">SU-DIPG-24</text>
<line x1="265" y1="691.5" x2="353" y2="691.5" stroke="#1a1a1a" stroke-width="2"/>
<text x="307.4" y="704.5" font-size="11.3" fill="#1a1a1a" text-anchor="middle" font-weight="bold" textLength="62.5" lengthAdjust="spacingAndGlyphs" stroke="#1a1a1a" stroke-width="0.12">SU-DIPG-33</text>
<polyline points="89.6,509 89.6,495.4 151.9,495.4 151.9,631.5" fill="none" stroke="#111" stroke-width="1.5" stroke-linejoin="miter"/>
<text x="118.9" y="492.4" font-size="13" fill="#1a1a1a" text-anchor="middle" textLength="5" lengthAdjust="spacingAndGlyphs" stroke="#1a1a1a" stroke-width="0.1">*</text>
<polyline points="183.1,519.7 183.1,495.5 245.4,495.5 245.4,634.2" fill="none" stroke="#111" stroke-width="1.5" stroke-linejoin="miter"/>
<text x="214.2" y="493.6" font-size="13" fill="#1a1a1a" text-anchor="middle" textLength="16.35" lengthAdjust="spacingAndGlyphs" stroke="#1a1a1a" stroke-width="0.1">***</text>
<polyline points="183.1,551.2 183.1,526.2 214.7,526.2 214.7,630.8" fill="none" stroke="#111" stroke-width="1.5" stroke-linejoin="miter"/>
<text x="198" y="525.4" font-size="13" fill="#1a1a1a" text-anchor="middle" textLength="16.35" lengthAdjust="spacingAndGlyphs" stroke="#1a1a1a" stroke-width="0.1">***</text>
<polyline points="276.4,520.2 276.4,496.5 337.6,496.5 337.6,642.5" fill="none" stroke="#111" stroke-width="1.5" stroke-linejoin="miter"/>
<text x="307.5" y="494.1" font-size="13" fill="#1a1a1a" text-anchor="middle" textLength="16.35" lengthAdjust="spacingAndGlyphs" stroke="#1a1a1a" stroke-width="0.1">***</text>
<polyline points="276.4,550.4 276.4,524.9 307.2,524.9 307.2,637.5" fill="none" stroke="#111" stroke-width="1.5" stroke-linejoin="miter"/>
<text x="291.9" y="524.6" font-size="13" fill="#1a1a1a" text-anchor="middle" textLength="16.35" lengthAdjust="spacingAndGlyphs" stroke="#1a1a1a" stroke-width="0.1">***</text>
</svg></body></html>
